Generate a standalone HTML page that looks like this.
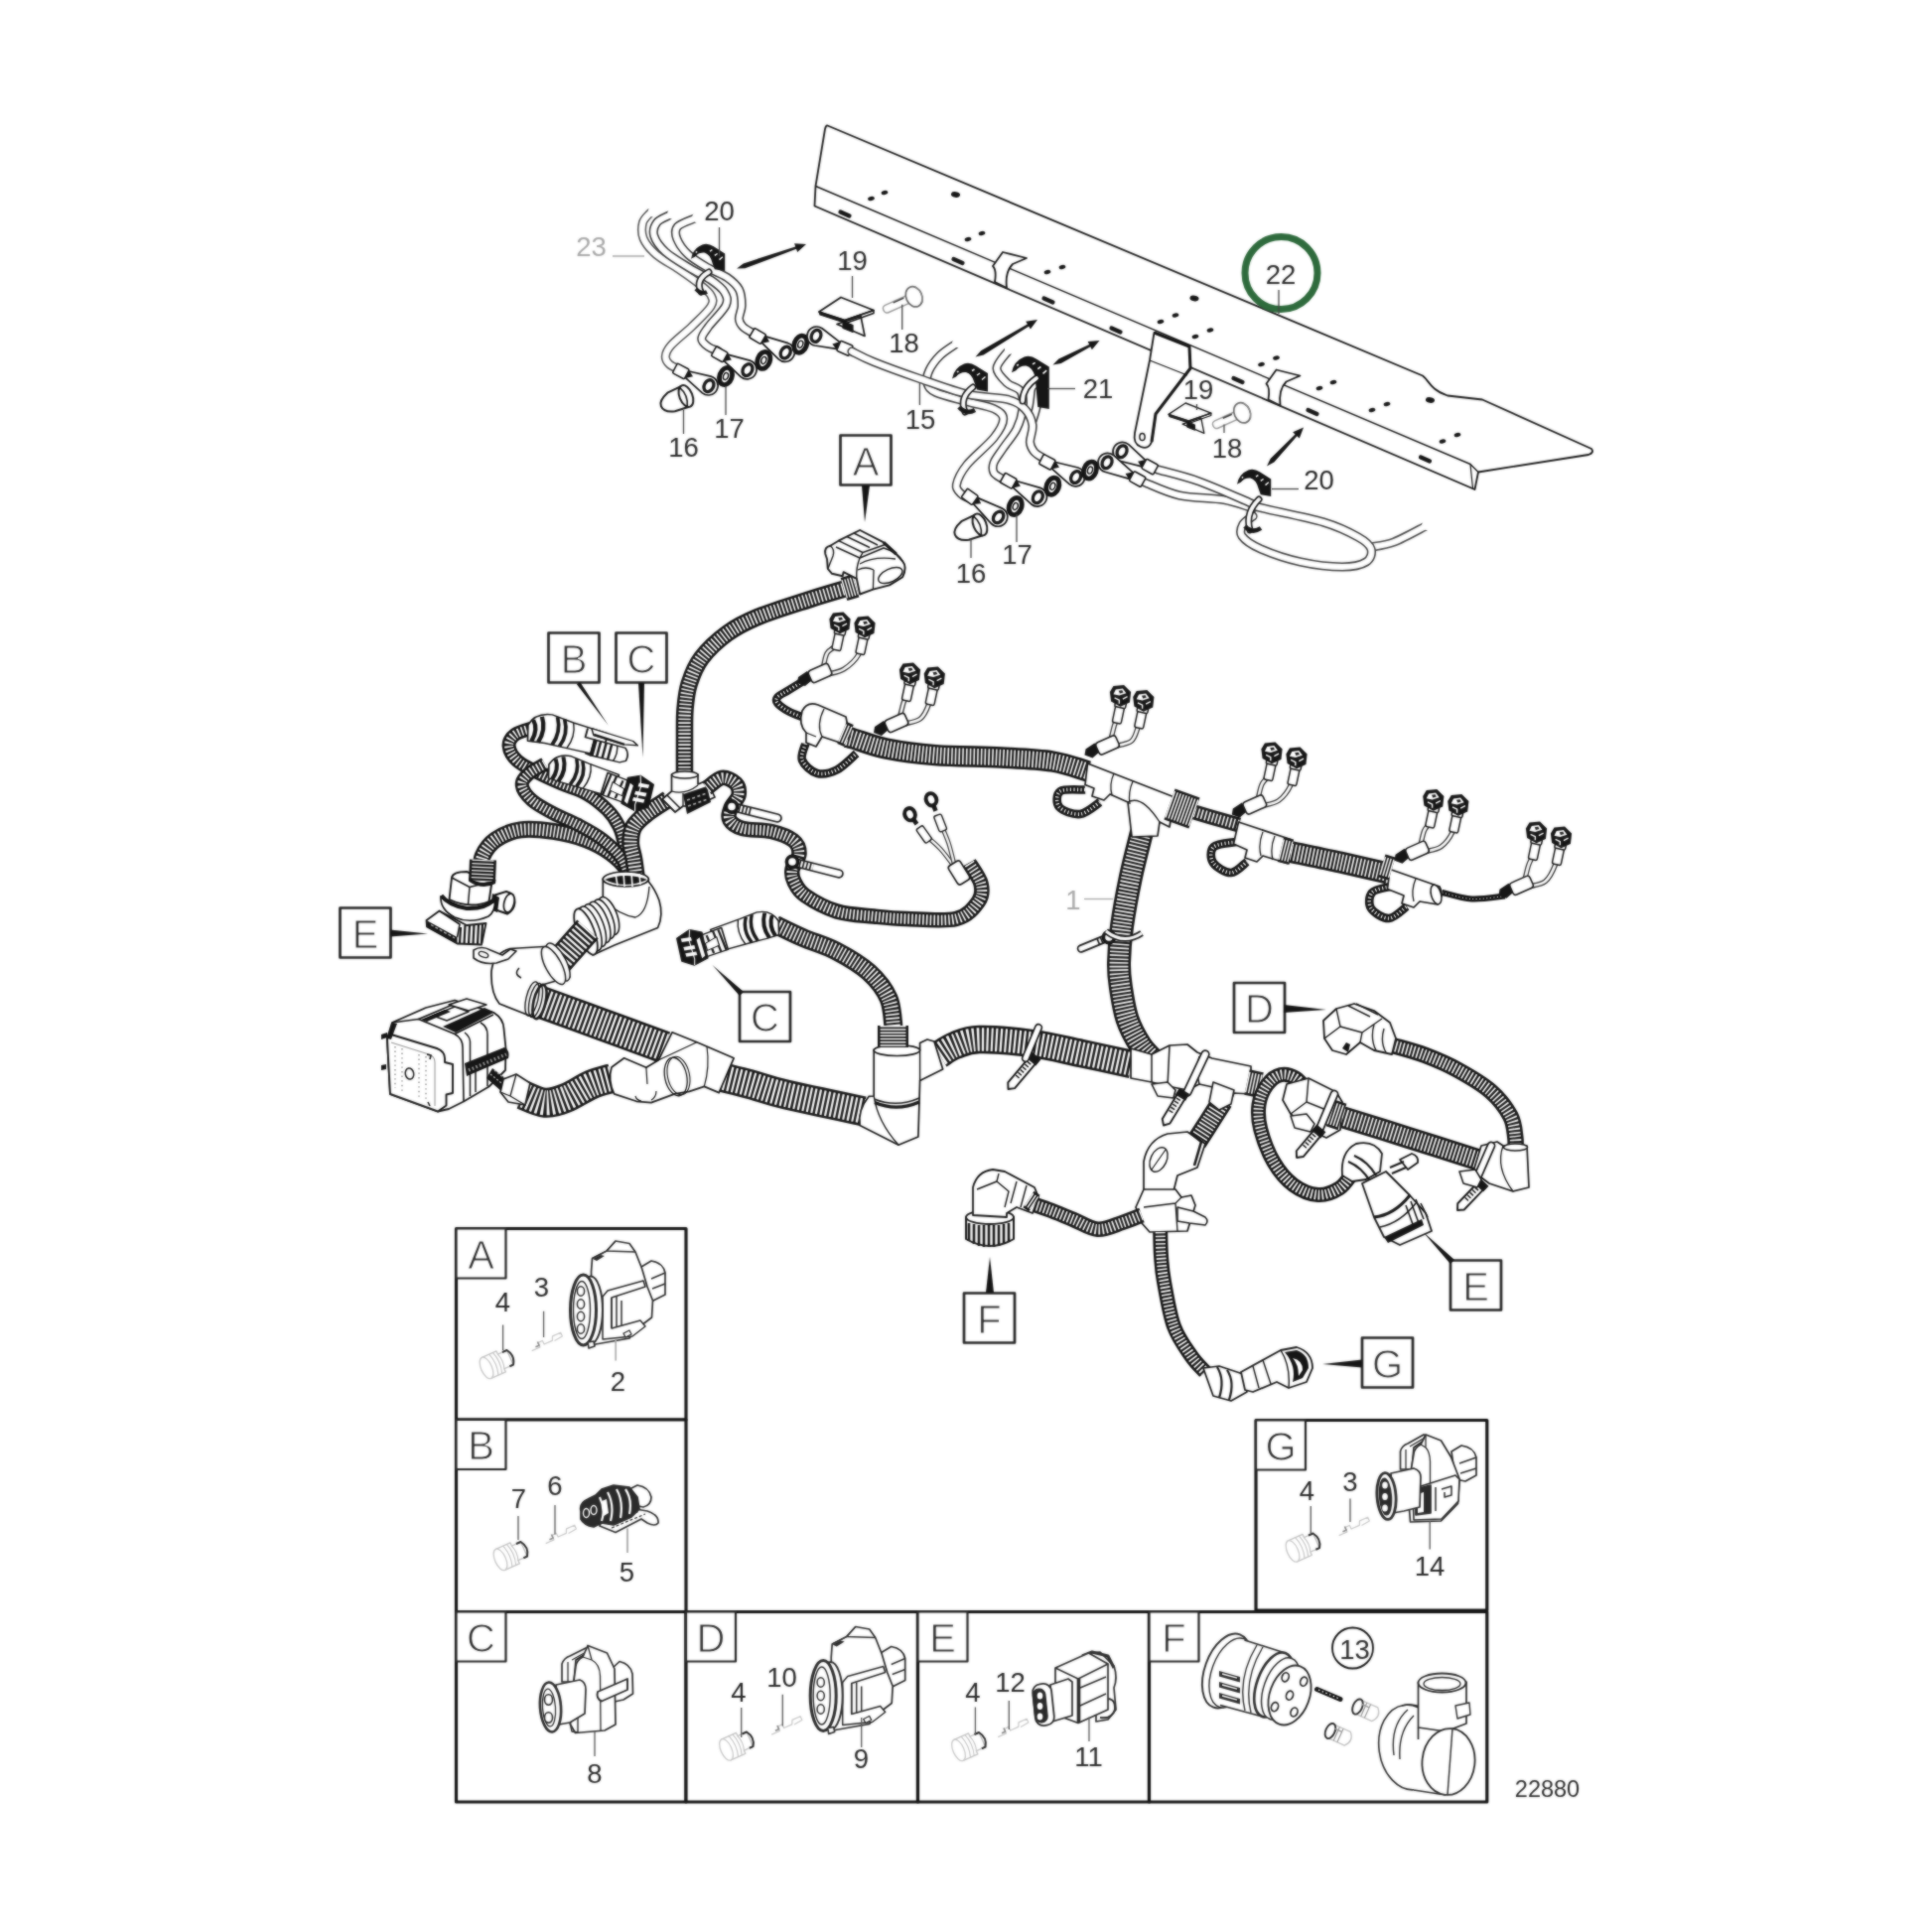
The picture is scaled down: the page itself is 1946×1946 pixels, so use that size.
<!DOCTYPE html>
<html><head><meta charset="utf-8"><title>Cable harness 22880</title>
<style>
html,body{margin:0;padding:0;background:#fff;}
body{width:1946px;height:1946px;overflow:hidden;}
svg{display:block;}
text{font-family:"Liberation Sans",Arial,Helvetica,sans-serif;}
</style></head><body>
<svg width="1946" height="1946" viewBox="0 0 1946 1946" stroke-linejoin="round">
<defs>
<filter id="soft" x="0" y="0" width="1946" height="1946" filterUnits="userSpaceOnUse" color-interpolation-filters="sRGB"><feGaussianBlur stdDeviation="0.9"/></filter>
<g id="art">
<rect width="1946" height="1946" fill="#fff"/>
<path d="M833.5 126.5 L1433 378.5 C1440 384 1440 392 1458 398.5 L1493 402.5 L1603 452 Q1606 456 1600 458 L1489 475.5 L1485.5 493 L820.5 207.5 L821.5 187.5 L831 130 Q832 126 833.5 126.5Z" fill="#fff" stroke="#161616" stroke-width="1.8" />
<path d="M821.5 187.5 L1481 467.5 L1489 475.5" fill="none" stroke="#161616" stroke-width="1.4" />
<path d="M1481 467.5 L1483.5 492" fill="none" stroke="#161616" stroke-width="1.2" />
<line x1="846.5" y1="213.5" x2="855.5" y2="217.5" stroke="#161616" stroke-width="4.2" stroke-linecap="round"/>
<line x1="960.5" y1="261.0" x2="969.5" y2="265.0" stroke="#161616" stroke-width="4.2" stroke-linecap="round"/>
<line x1="1051.5" y1="300.5" x2="1060.5" y2="304.5" stroke="#161616" stroke-width="4.2" stroke-linecap="round"/>
<line x1="1119.5" y1="330.5" x2="1128.5" y2="334.5" stroke="#161616" stroke-width="4.2" stroke-linecap="round"/>
<line x1="1242.5" y1="381.0" x2="1251.5" y2="385.0" stroke="#161616" stroke-width="4.2" stroke-linecap="round"/>
<line x1="1317.5" y1="413.0" x2="1326.5" y2="417.0" stroke="#161616" stroke-width="4.2" stroke-linecap="round"/>
<line x1="1431.0" y1="460.5" x2="1440.0" y2="464.5" stroke="#161616" stroke-width="4.2" stroke-linecap="round"/>
<ellipse cx="877.5" cy="200.0" rx="3.4" ry="2.1" fill="#161616" transform="rotate(-12 877.5 200.0)"/>
<ellipse cx="891.0" cy="194.0" rx="3.4" ry="2.1" fill="#161616" transform="rotate(-12 891.0 194.0)"/>
<ellipse cx="975.0" cy="241.0" rx="3.4" ry="2.1" fill="#161616" transform="rotate(-12 975.0 241.0)"/>
<ellipse cx="989.0" cy="235.0" rx="3.4" ry="2.1" fill="#161616" transform="rotate(-12 989.0 235.0)"/>
<ellipse cx="1055.0" cy="274.0" rx="3.4" ry="2.1" fill="#161616" transform="rotate(-12 1055.0 274.0)"/>
<ellipse cx="1070.0" cy="269.0" rx="3.4" ry="2.1" fill="#161616" transform="rotate(-12 1070.0 269.0)"/>
<ellipse cx="1169.0" cy="324.0" rx="3.4" ry="2.1" fill="#161616" transform="rotate(-12 1169.0 324.0)"/>
<ellipse cx="1184.0" cy="317.5" rx="3.4" ry="2.1" fill="#161616" transform="rotate(-12 1184.0 317.5)"/>
<ellipse cx="1204.0" cy="339.0" rx="3.4" ry="2.1" fill="#161616" transform="rotate(-12 1204.0 339.0)"/>
<ellipse cx="1219.0" cy="332.5" rx="3.4" ry="2.1" fill="#161616" transform="rotate(-12 1219.0 332.5)"/>
<ellipse cx="1270.5" cy="367.0" rx="3.4" ry="2.1" fill="#161616" transform="rotate(-12 1270.5 367.0)"/>
<ellipse cx="1285.5" cy="360.5" rx="3.4" ry="2.1" fill="#161616" transform="rotate(-12 1285.5 360.5)"/>
<ellipse cx="1329.0" cy="391.0" rx="3.4" ry="2.1" fill="#161616" transform="rotate(-12 1329.0 391.0)"/>
<ellipse cx="1343.0" cy="385.0" rx="3.4" ry="2.1" fill="#161616" transform="rotate(-12 1343.0 385.0)"/>
<ellipse cx="1382.0" cy="413.0" rx="3.4" ry="2.1" fill="#161616" transform="rotate(-12 1382.0 413.0)"/>
<ellipse cx="1397.0" cy="407.0" rx="3.4" ry="2.1" fill="#161616" transform="rotate(-12 1397.0 407.0)"/>
<ellipse cx="1453.0" cy="444.5" rx="3.4" ry="2.1" fill="#161616" transform="rotate(-12 1453.0 444.5)"/>
<ellipse cx="1468.0" cy="438.0" rx="3.4" ry="2.1" fill="#161616" transform="rotate(-12 1468.0 438.0)"/>
<ellipse cx="962.5" cy="196.0" rx="4.6" ry="2.8" fill="#161616" transform="rotate(10 962.5 196.0)"/>
<ellipse cx="1203.0" cy="300.5" rx="4.6" ry="2.8" fill="#161616" transform="rotate(10 1203.0 300.5)"/>
<ellipse cx="1440.5" cy="403.0" rx="4.6" ry="2.8" fill="#161616" transform="rotate(10 1440.5 403.0)"/>
<path d="M1000.0 268.0 l10 -14 l24 6 l-14 6 q-8 8 -6 24 l-12 -6 q2 -12 -2 -16Z" fill="#fff" stroke="#161616" stroke-width="1.8" />
<path d="M1275.5 386.5 l10 -14 l24 6 l-14 6 q-8 8 -6 24 l-12 -6 q2 -12 -2 -16Z" fill="#fff" stroke="#161616" stroke-width="1.8" />
<path d="M1162.5 335 L1198 349 L1199 371 L1164 417 L1160 445 Q1157 453 1149 450 Q1141 447 1143 436 L1158 363 Z" fill="#fff" stroke="#161616" stroke-width="1.8" />
<path d="M1162.5 335 L1198 349 L1199 371 L1164 417 L1160 445" fill="none" stroke="#161616" stroke-width="3" />
<path d="M1158 363 L1196 378" fill="none" stroke="#161616" stroke-width="1.3" />
<ellipse cx="1150.5" cy="440" rx="2.6" ry="3.6" fill="none" stroke="#161616" stroke-width="1.5"/>
<circle cx="1290.5" cy="275" r="36.5" fill="none" stroke="#2f6b3d" stroke-width="7"/>
<text x="1290.0" y="286.3" font-size="27.5" fill="#2a2a2a" text-anchor="middle" >22</text>
<line x1="1288.0" y1="292.0" x2="1288.0" y2="316.0" stroke="#444" stroke-width="1.3"/>
<text x="724.5" y="221.8" font-size="27.5" fill="#2a2a2a" text-anchor="middle" >20</text>
<text x="858.5" y="271.8" font-size="27.5" fill="#2a2a2a" text-anchor="middle" >19</text>
<text x="910.5" y="354.8" font-size="27.5" fill="#2a2a2a" text-anchor="middle" >18</text>
<text x="734.5" y="440.8" font-size="27.5" fill="#2a2a2a" text-anchor="middle" >17</text>
<text x="688.5" y="459.8" font-size="27.5" fill="#2a2a2a" text-anchor="middle" >16</text>
<text x="927.0" y="431.8" font-size="27.5" fill="#2a2a2a" text-anchor="middle" >15</text>
<text x="1024.5" y="568.3" font-size="27.5" fill="#2a2a2a" text-anchor="middle" >17</text>
<text x="978.0" y="586.8" font-size="27.5" fill="#2a2a2a" text-anchor="middle" >16</text>
<text x="1106.0" y="400.8" font-size="27.5" fill="#2a2a2a" text-anchor="middle" >21</text>
<text x="1207.0" y="401.8" font-size="27.5" fill="#2a2a2a" text-anchor="middle" >19</text>
<text x="1236.0" y="460.8" font-size="27.5" fill="#2a2a2a" text-anchor="middle" >18</text>
<text x="1328.5" y="493.3" font-size="27.5" fill="#2a2a2a" text-anchor="middle" >20</text>
<text x="595.5" y="258.3" font-size="27.5" fill="#a9a9a9" text-anchor="middle" >23</text>
<text x="1081.0" y="916.3" font-size="27.5" fill="#a9a9a9" text-anchor="middle" >1</text>
<rect x="459.5" y="1237.5" width="231.5" height="192.5" fill="#fff" stroke="#161616" stroke-width="3.2"/>
<rect x="459.5" y="1430.0" width="231.5" height="193.5" fill="#fff" stroke="#161616" stroke-width="3.2"/>
<rect x="459.5" y="1623.5" width="231.5" height="191.5" fill="#fff" stroke="#161616" stroke-width="3.2"/>
<rect x="691.0" y="1623.5" width="233.5" height="191.5" fill="#fff" stroke="#161616" stroke-width="3.2"/>
<rect x="924.5" y="1623.5" width="233.0" height="191.5" fill="#fff" stroke="#161616" stroke-width="3.2"/>
<rect x="1157.5" y="1623.5" width="340.3" height="191.5" fill="#fff" stroke="#161616" stroke-width="3.2"/>
<rect x="1265.0" y="1430.5" width="232.8" height="191.5" fill="#fff" stroke="#161616" stroke-width="3.2"/>
<rect x="459.5" y="1237.5" width="50" height="50" fill="#fff" stroke="#262626" stroke-width="2.2"/>
<text x="484.5" y="1277.9" font-size="40" fill="#2e2e2e" text-anchor="middle" stroke="#fff" stroke-width="1.1">A</text>
<rect x="459.5" y="1430.0" width="50" height="50" fill="#fff" stroke="#262626" stroke-width="2.2"/>
<text x="484.5" y="1470.4" font-size="40" fill="#2e2e2e" text-anchor="middle" stroke="#fff" stroke-width="1.1">B</text>
<rect x="459.5" y="1623.5" width="50" height="50" fill="#fff" stroke="#262626" stroke-width="2.2"/>
<text x="484.5" y="1663.9" font-size="40" fill="#2e2e2e" text-anchor="middle" stroke="#fff" stroke-width="1.1">C</text>
<rect x="691.0" y="1623.5" width="50" height="50" fill="#fff" stroke="#262626" stroke-width="2.2"/>
<text x="716.0" y="1663.9" font-size="40" fill="#2e2e2e" text-anchor="middle" stroke="#fff" stroke-width="1.1">D</text>
<rect x="924.5" y="1623.5" width="50" height="50" fill="#fff" stroke="#262626" stroke-width="2.2"/>
<text x="949.5" y="1663.9" font-size="40" fill="#2e2e2e" text-anchor="middle" stroke="#fff" stroke-width="1.1">E</text>
<rect x="1157.5" y="1623.5" width="50" height="50" fill="#fff" stroke="#262626" stroke-width="2.2"/>
<text x="1182.5" y="1663.9" font-size="40" fill="#2e2e2e" text-anchor="middle" stroke="#fff" stroke-width="1.1">F</text>
<rect x="1265.0" y="1430.5" width="50" height="50" fill="#fff" stroke="#262626" stroke-width="2.2"/>
<text x="1290.0" y="1470.9" font-size="40" fill="#2e2e2e" text-anchor="middle" stroke="#fff" stroke-width="1.1">G</text>
<text x="506.5" y="1320.8" font-size="27.5" fill="#2a2a2a" text-anchor="middle" >4</text>
<text x="545.5" y="1305.8" font-size="27.5" fill="#2a2a2a" text-anchor="middle" >3</text>
<text x="622.5" y="1400.8" font-size="27.5" fill="#2a2a2a" text-anchor="middle" >2</text>
<text x="522.5" y="1518.8" font-size="27.5" fill="#2a2a2a" text-anchor="middle" >7</text>
<text x="559.0" y="1505.8" font-size="27.5" fill="#2a2a2a" text-anchor="middle" >6</text>
<text x="631.5" y="1593.3" font-size="27.5" fill="#2a2a2a" text-anchor="middle" >5</text>
<text x="599.0" y="1795.8" font-size="27.5" fill="#2a2a2a" text-anchor="middle" >8</text>
<text x="744.0" y="1713.8" font-size="27.5" fill="#2a2a2a" text-anchor="middle" >4</text>
<text x="787.5" y="1698.8" font-size="27.5" fill="#2a2a2a" text-anchor="middle" >10</text>
<text x="867.5" y="1780.8" font-size="27.5" fill="#2a2a2a" text-anchor="middle" >9</text>
<text x="980.0" y="1713.8" font-size="27.5" fill="#2a2a2a" text-anchor="middle" >4</text>
<text x="1017.5" y="1703.8" font-size="27.5" fill="#2a2a2a" text-anchor="middle" >12</text>
<text x="1096.5" y="1778.8" font-size="27.5" fill="#2a2a2a" text-anchor="middle" >11</text>
<text x="1364.5" y="1670.8" font-size="27.5" fill="#2a2a2a" text-anchor="middle" >13</text>
<text x="1316.5" y="1510.8" font-size="27.5" fill="#2a2a2a" text-anchor="middle" >4</text>
<text x="1360.0" y="1502.3" font-size="27.5" fill="#2a2a2a" text-anchor="middle" >3</text>
<text x="1440.0" y="1587.3" font-size="27.5" fill="#2a2a2a" text-anchor="middle" >14</text>
<circle cx="1362.5" cy="1660" r="20.5" fill="none" stroke="#161616" stroke-width="1.8"/>
<text x="1558.5" y="1809.5" font-size="23.5" fill="#2a2a2a" text-anchor="middle" >22880</text>
<rect x="846.5" y="438.5" width="51" height="50" fill="#fff" stroke="#262626" stroke-width="2.7"/>
<text x="872.0" y="478.9" font-size="40" fill="#2e2e2e" text-anchor="middle" stroke="#fff" stroke-width="1.1">A</text>
<rect x="552.5" y="637.5" width="51" height="50" fill="#fff" stroke="#262626" stroke-width="2.7"/>
<text x="578.0" y="677.9" font-size="40" fill="#2e2e2e" text-anchor="middle" stroke="#fff" stroke-width="1.1">B</text>
<rect x="620.5" y="637.5" width="51" height="50" fill="#fff" stroke="#262626" stroke-width="2.7"/>
<text x="646.0" y="677.9" font-size="40" fill="#2e2e2e" text-anchor="middle" stroke="#fff" stroke-width="1.1">C</text>
<rect x="342.5" y="914.5" width="51" height="50" fill="#fff" stroke="#262626" stroke-width="2.7"/>
<text x="368.0" y="954.9" font-size="40" fill="#2e2e2e" text-anchor="middle" stroke="#fff" stroke-width="1.1">E</text>
<rect x="745.0" y="999.0" width="51" height="50" fill="#fff" stroke="#262626" stroke-width="2.7"/>
<text x="770.5" y="1039.4" font-size="40" fill="#2e2e2e" text-anchor="middle" stroke="#fff" stroke-width="1.1">C</text>
<rect x="1243.0" y="990.0" width="51" height="50" fill="#fff" stroke="#262626" stroke-width="2.7"/>
<text x="1268.5" y="1030.4" font-size="40" fill="#2e2e2e" text-anchor="middle" stroke="#fff" stroke-width="1.1">D</text>
<rect x="1461.0" y="1269.5" width="51" height="50" fill="#fff" stroke="#262626" stroke-width="2.7"/>
<text x="1486.5" y="1309.9" font-size="40" fill="#2e2e2e" text-anchor="middle" stroke="#fff" stroke-width="1.1">E</text>
<rect x="1372.0" y="1347.5" width="51" height="50" fill="#fff" stroke="#262626" stroke-width="2.7"/>
<text x="1397.5" y="1387.9" font-size="40" fill="#2e2e2e" text-anchor="middle" stroke="#fff" stroke-width="1.1">G</text>
<rect x="971.0" y="1302.5" width="51" height="50" fill="#fff" stroke="#262626" stroke-width="2.7"/>
<text x="996.5" y="1342.9" font-size="40" fill="#2e2e2e" text-anchor="middle" stroke="#fff" stroke-width="1.1">F</text>
<path d="M868.0 488.9 L871.0 526.0 L876.0 489.1 Z" fill="#161616"/>
<path d="M580.9 689.2 L613.0 731.0 L584.1 686.8 Z" fill="#161616"/>
<path d="M643.0 688.1 L647.5 763.0 L649.0 687.9 Z" fill="#161616"/>
<path d="M393.0 943.5 L431.0 940.5 L393.0 936.5 Z" fill="#161616"/>
<path d="M749.1 998.9 L717.5 972.0 L744.9 1003.1 Z" fill="#161616"/>
<path d="M1292.9 1020.0 L1336.0 1017.0 L1293.1 1012.0 Z" fill="#161616"/>
<path d="M1465.1 1268.9 L1432.5 1240.0 L1460.9 1273.1 Z" fill="#161616"/>
<path d="M1372.0 1369.5 L1332.0 1374.0 L1372.0 1377.5 Z" fill="#161616"/>
<path d="M1001.0 1302.0 L997.0 1266.0 L993.0 1302.0 Z" fill="#161616"/>
<line x1="617.0" y1="258.0" x2="649.0" y2="258.0" stroke="#999" stroke-width="1.3"/>
<path d="M654.9 214.5 C653.7 216.1 648.6 219.9 647.5 224.2 C646.4 228.5 646.0 235.0 648.2 240.4 C650.5 245.8 655.1 251.3 661.0 256.5 C666.9 261.6 676.4 266.2 683.8 271.3 C691.2 276.4 700.0 282.6 705.4 287.0 C710.8 291.4 714.3 293.9 716.1 297.5 C717.9 301.1 719.2 303.3 716.1 308.5 C713.0 313.7 704.0 321.9 697.3 328.5 C690.6 335.1 680.3 342.9 675.8 348.0 C671.3 353.1 670.6 355.8 670.4 359.0 C670.2 362.2 672.0 364.8 674.4 367.0 C676.8 369.2 682.8 371.2 684.5 372.0" fill="none" stroke="#555" stroke-width="9.2" stroke-linecap="round"/>
<path d="M654.9 214.5 C653.7 216.1 648.6 219.9 647.5 224.2 C646.4 228.5 646.0 235.0 648.2 240.4 C650.5 245.8 655.1 251.3 661.0 256.5 C666.9 261.6 676.4 266.2 683.8 271.3 C691.2 276.4 700.0 282.6 705.4 287.0 C710.8 291.4 714.3 293.9 716.1 297.5 C717.9 301.1 719.2 303.3 716.1 308.5 C713.0 313.7 704.0 321.9 697.3 328.5 C690.6 335.1 680.3 342.9 675.8 348.0 C671.3 353.1 670.6 355.8 670.4 359.0 C670.2 362.2 672.0 364.8 674.4 367.0 C676.8 369.2 682.8 371.2 684.5 372.0" fill="none" stroke="#fff" stroke-width="6.1" stroke-linecap="round"/>
<path d="M674.4 216.8 C672.3 218.0 664.2 220.7 661.6 224.2 C659.0 227.7 657.4 232.8 658.9 237.7 C660.4 242.6 664.4 248.4 670.4 253.8 C676.4 259.2 687.0 265.3 694.6 270.0 C702.2 274.7 710.3 278.1 716.1 282.1 C721.9 286.1 727.1 289.9 729.6 294.2 C732.1 298.5 733.7 301.9 731.0 307.7 C728.3 313.5 717.5 323.6 713.5 329.2 C709.5 334.8 706.7 337.9 706.7 341.3 C706.7 344.7 710.8 347.4 713.5 349.4 C716.2 351.4 721.3 352.7 722.9 353.4" fill="none" stroke="#3a3a3a" stroke-width="9.2" stroke-linecap="round"/>
<path d="M674.4 216.8 C672.3 218.0 664.2 220.7 661.6 224.2 C659.0 227.7 657.4 232.8 658.9 237.7 C660.4 242.6 664.4 248.4 670.4 253.8 C676.4 259.2 687.0 265.3 694.6 270.0 C702.2 274.7 710.3 278.1 716.1 282.1 C721.9 286.1 727.1 289.9 729.6 294.2 C732.1 298.5 733.7 301.9 731.0 307.7 C728.3 313.5 717.5 323.6 713.5 329.2 C709.5 334.8 706.7 337.9 706.7 341.3 C706.7 344.7 710.8 347.4 713.5 349.4 C716.2 351.4 721.3 352.7 722.9 353.4" fill="none" stroke="#fff" stroke-width="6.1" stroke-linecap="round"/>
<path d="M699.3 220.2 C696.5 221.5 685.4 224.9 682.5 228.3 C679.6 231.7 680.0 235.7 681.8 240.4 C683.6 245.1 688.0 251.6 693.3 256.5 C698.6 261.4 707.0 266.2 713.5 270.0 C720.0 273.8 727.1 275.8 732.3 279.4 C737.4 283.0 741.9 286.8 744.4 291.5 C746.9 296.2 747.1 302.8 747.1 307.7 C747.1 312.6 744.2 317.5 744.4 321.1 C744.6 324.7 745.9 326.7 748.4 329.2 C750.9 331.7 757.4 334.9 759.2 336.0" fill="none" stroke="#3a3a3a" stroke-width="9.2" stroke-linecap="round"/>
<path d="M699.3 220.2 C696.5 221.5 685.4 224.9 682.5 228.3 C679.6 231.7 680.0 235.7 681.8 240.4 C683.6 245.1 688.0 251.6 693.3 256.5 C698.6 261.4 707.0 266.2 713.5 270.0 C720.0 273.8 727.1 275.8 732.3 279.4 C737.4 283.0 741.9 286.8 744.4 291.5 C746.9 296.2 747.1 302.8 747.1 307.7 C747.1 312.6 744.2 317.5 744.4 321.1 C744.6 324.7 745.9 326.7 748.4 329.2 C750.9 331.7 757.4 334.9 759.2 336.0" fill="none" stroke="#fff" stroke-width="6.1" stroke-linecap="round"/>
<circle cx="658.4" cy="213.0" r="5.6" fill="#fff"/>
<circle cx="677.9" cy="215.3" r="5.6" fill="#fff"/>
<circle cx="702.8" cy="218.7" r="5.6" fill="#fff"/>
<g transform="translate(696.0 245.5) scale(0.95)">
<path d="M0 16 Q2 5 12 1 Q18 -1 24 3 L36 10.5 L36 29 L25 27 L22.5 20 Q20 11 14 9.5 Q8 9 4 14 Z" fill="#161616"/>
<path d="M20 8 l2.5 -1.5 M25 12.5 l3 -2 M30 17 l3.5 -3 M5 9.5 l1.5 -1.2" stroke="#fff" stroke-width="1.5" fill="none"/>
</g>
<path d="M714.0 274.0 Q700.0 282.0 706.0 294.0" fill="none" stroke="#161616" stroke-width="7" stroke-linecap="round"/>
<path d="M714.0 274.0 Q700.0 282.0 706.0 294.0" fill="none" stroke="#fff" stroke-width="3.8" stroke-linecap="round"/>
<path d="M701 291 q5 6 11 3" stroke="#161616" stroke-width="4" fill="none"/>
<g transform="translate(742.0 270.5) rotate(-19.3)">
<path d="M0 0 L8 -2.6 L63.2 -1.3 L63.2 -4.6 L74.2 0 L63.2 4.6 L63.2 1.3 L8 2.6Z" fill="#161616"/>
</g>
<g transform="translate(790.8 354.8) rotate(30.5)">
<path d="M-25.9 -3.5 L-2 -9.4 A9.6 9.6 0 1 1 -2 9.4 L-25.9 3.5Z" fill="#fff" stroke="#161616" stroke-width="1.7"/>
<path d="M-25.9 -5 L-18.9 -1 L-25.9 5Z" fill="#161616"/>
<rect x="-38.9" y="-5.5" width="13.5" height="11" rx="1.5" fill="#fff" stroke="#161616" stroke-width="1.6"/>
<ellipse cx="0.5" cy="0" rx="4.6" ry="6.2" fill="#fff" stroke="#161616" stroke-width="3.3"/>
</g>
<g transform="translate(752.5 372.3) rotate(29.1)">
<path d="M-25.5 -3.5 L-2 -9.4 A9.6 9.6 0 1 1 -2 9.4 L-25.5 3.5Z" fill="#fff" stroke="#161616" stroke-width="1.7"/>
<path d="M-25.5 -5 L-18.5 -1 L-25.5 5Z" fill="#161616"/>
<rect x="-38.5" y="-5.5" width="13.5" height="11" rx="1.5" fill="#fff" stroke="#161616" stroke-width="1.6"/>
<ellipse cx="0.5" cy="0" rx="4.6" ry="6.2" fill="#fff" stroke="#161616" stroke-width="3.3"/>
</g>
<g transform="translate(713.5 388.4) rotate(27.6)">
<path d="M-25.0 -3.5 L-2 -9.4 A9.6 9.6 0 1 1 -2 9.4 L-25.0 3.5Z" fill="#fff" stroke="#161616" stroke-width="1.7"/>
<path d="M-25.0 -5 L-18.0 -1 L-25.0 5Z" fill="#161616"/>
<rect x="-38.0" y="-5.5" width="13.5" height="11" rx="1.5" fill="#fff" stroke="#161616" stroke-width="1.6"/>
<ellipse cx="0.5" cy="0" rx="4.6" ry="6.2" fill="#fff" stroke="#161616" stroke-width="3.3"/>
</g>
<g transform="translate(806.3 346.7) rotate(20.0)">
<ellipse cx="0" cy="0" rx="6.2" ry="8.8" fill="#fff" stroke="#161616" stroke-width="4.8"/>
<ellipse cx="0" cy="0" rx="2.4" ry="3.6" fill="none" stroke="#161616" stroke-width="1.4"/>
</g>
<g transform="translate(769.3 362.9) rotate(20.0)">
<ellipse cx="0" cy="0" rx="6.2" ry="8.8" fill="#fff" stroke="#161616" stroke-width="4.8"/>
<ellipse cx="0" cy="0" rx="2.4" ry="3.6" fill="none" stroke="#161616" stroke-width="1.4"/>
</g>
<g transform="translate(731.0 379.0) rotate(20.0)">
<ellipse cx="0" cy="0" rx="6.2" ry="8.8" fill="#fff" stroke="#161616" stroke-width="4.8"/>
<ellipse cx="0" cy="0" rx="2.4" ry="3.6" fill="none" stroke="#161616" stroke-width="1.4"/>
</g>
<g transform="translate(683.5 402.0) rotate(-22.0)">
<path d="M6 -11 L-8 -10 Q-19 -6 -19 0 Q-19 7 -8 10 L6 11 Z" fill="#fff" stroke="#161616" stroke-width="2"/>
<ellipse cx="8" cy="0" rx="6.5" ry="11.5" fill="#fff" stroke="#161616" stroke-width="2"/>
<path d="M5 -11 Q11 0 5 11" fill="none" stroke="#161616" stroke-width="1.6"/>
</g>
<g transform="translate(822.5 338.6) rotate(-156.8)">
<path d="M-24.7 -3.5 L-2 -9.4 A9.6 9.6 0 1 1 -2 9.4 L-24.7 3.5Z" fill="#fff" stroke="#161616" stroke-width="1.7"/>
<path d="M-24.7 -5 L-17.7 -1 L-24.7 5Z" fill="#161616"/>
<rect x="-37.7" y="-5.5" width="13.5" height="11" rx="1.5" fill="#fff" stroke="#161616" stroke-width="1.6"/>
<ellipse cx="0.5" cy="0" rx="4.6" ry="6.2" fill="#fff" stroke="#161616" stroke-width="3.3"/>
</g>
<g transform="translate(825.0 299.5) scale(1.00)">
<path d="M42 19 L46 39 L18 27 Z" fill="#fff" stroke="#161616" stroke-width="1.7" />
<path d="M24 24 L24 31 L34 35 L34 28Z" fill="#161616" stroke="#161616" stroke-width="1.2" />
<path d="M0 14.5 L22 0 L55 13 L26 23 Z" fill="#fff" stroke="#161616" stroke-width="1.8" />
<path d="M0 14.5 L26 23 L27 26 L1 17.5Z" fill="#161616" stroke="#161616" stroke-width="1.2" />
<path d="M26 23 L55 13 L55 16 L27 26" fill="none" stroke="#161616" stroke-width="1.5" />
</g>
<g transform="translate(922.5 298.0) rotate(156.0)">
<rect x="0" y="-4" width="35.6" height="8" rx="3.5" fill="#fff" stroke="#9a9a9a" stroke-width="1.5"/>
<line x1="12" y1="3" x2="23.6" y2="3" stroke="#333" stroke-width="1.6"/>
<ellipse cx="2" cy="0" rx="8" ry="10.5" fill="#fff" stroke="#666" stroke-width="1.7"/>
<path d="M-3 -9 Q-9 0 -3 9" fill="none" stroke="#888" stroke-width="1.3"/>
</g>
<line x1="724.5" y1="229.0" x2="724.5" y2="258.0" stroke="#444" stroke-width="1.3"/>
<line x1="858.5" y1="278.0" x2="858.5" y2="300.0" stroke="#444" stroke-width="1.3"/>
<line x1="908.7" y1="306.7" x2="908.7" y2="332.0" stroke="#444" stroke-width="1.3"/>
<line x1="731.0" y1="389.0" x2="731.0" y2="418.0" stroke="#444" stroke-width="1.3"/>
<line x1="688.5" y1="413.0" x2="688.5" y2="437.0" stroke="#444" stroke-width="1.3"/>
<path d="M1046.0 394.0 C1045.7 396.7 1045.0 405.0 1044.0 410.0 C1043.0 415.0 1040.7 421.7 1040.0 424.0" fill="none" stroke="#3a3a3a" stroke-width="9.2" stroke-linecap="round"/>
<path d="M1046.0 394.0 C1045.7 396.7 1045.0 405.0 1044.0 410.0 C1043.0 415.0 1040.7 421.7 1040.0 424.0" fill="none" stroke="#fff" stroke-width="6.1" stroke-linecap="round"/>
<path d="M1015.0 354.0 C1013.2 356.8 1004.1 365.7 1004.0 371.0 C1003.9 376.3 1010.6 382.2 1014.6 386.0 C1018.6 389.8 1025.4 389.7 1028.0 394.0 C1030.6 398.3 1030.7 405.7 1030.0 412.0 C1029.3 418.3 1027.3 425.3 1024.0 432.0 C1020.7 438.7 1013.8 446.3 1010.0 452.0 C1006.2 457.7 1002.5 462.0 1001.0 466.0 C999.5 470.0 999.7 473.3 1001.0 476.0 C1002.3 478.7 1007.7 481.0 1009.0 482.0" fill="none" stroke="#3a3a3a" stroke-width="9.2" stroke-linecap="round"/>
<path d="M1015.0 354.0 C1013.2 356.8 1004.1 365.7 1004.0 371.0 C1003.9 376.3 1010.6 382.2 1014.6 386.0 C1018.6 389.8 1025.4 389.7 1028.0 394.0 C1030.6 398.3 1030.7 405.7 1030.0 412.0 C1029.3 418.3 1027.3 425.3 1024.0 432.0 C1020.7 438.7 1013.8 446.3 1010.0 452.0 C1006.2 457.7 1002.5 462.0 1001.0 466.0 C999.5 470.0 999.7 473.3 1001.0 476.0 C1002.3 478.7 1007.7 481.0 1009.0 482.0" fill="none" stroke="#fff" stroke-width="6.1" stroke-linecap="round"/>
<path d="M962.0 347.0 C959.5 348.8 951.3 353.7 947.0 358.0 C942.7 362.3 938.2 368.3 936.0 373.0 C933.8 377.7 932.8 382.2 934.0 386.0 C935.2 389.8 936.3 392.5 943.0 395.6 C949.7 398.7 964.3 401.8 974.0 404.5 C983.7 407.2 994.9 408.8 1001.0 411.7 C1007.1 414.6 1010.6 417.1 1010.6 422.0 C1010.6 426.9 1007.1 433.3 1001.0 441.0 C994.9 448.7 980.3 460.1 974.0 468.0 C967.7 475.9 964.3 483.4 963.4 488.4 C962.5 493.4 966.4 495.6 968.8 498.0 C971.2 500.4 976.5 501.8 978.0 502.5" fill="none" stroke="#3a3a3a" stroke-width="9.2" stroke-linecap="round"/>
<path d="M962.0 347.0 C959.5 348.8 951.3 353.7 947.0 358.0 C942.7 362.3 938.2 368.3 936.0 373.0 C933.8 377.7 932.8 382.2 934.0 386.0 C935.2 389.8 936.3 392.5 943.0 395.6 C949.7 398.7 964.3 401.8 974.0 404.5 C983.7 407.2 994.9 408.8 1001.0 411.7 C1007.1 414.6 1010.6 417.1 1010.6 422.0 C1010.6 426.9 1007.1 433.3 1001.0 441.0 C994.9 448.7 980.3 460.1 974.0 468.0 C967.7 475.9 964.3 483.4 963.4 488.4 C962.5 493.4 966.4 495.6 968.8 498.0 C971.2 500.4 976.5 501.8 978.0 502.5" fill="none" stroke="#fff" stroke-width="6.1" stroke-linecap="round"/>
<path d="M858.0 354.0 C861.7 355.8 868.8 360.0 880.0 364.5 C891.2 369.0 909.3 375.6 925.0 381.0 C940.7 386.4 959.1 393.4 974.0 397.0 C988.9 400.6 1004.9 399.9 1014.6 402.3 C1024.3 404.8 1027.8 407.4 1032.0 411.7 C1036.2 416.0 1039.1 422.3 1040.0 427.9 C1040.9 433.5 1037.2 440.9 1037.5 445.4 C1037.8 449.9 1039.4 452.2 1041.5 454.8 C1043.6 457.4 1048.6 460.0 1050.0 461.0" fill="none" stroke="#3a3a3a" stroke-width="9.2" stroke-linecap="round"/>
<path d="M858.0 354.0 C861.7 355.8 868.8 360.0 880.0 364.5 C891.2 369.0 909.3 375.6 925.0 381.0 C940.7 386.4 959.1 393.4 974.0 397.0 C988.9 400.6 1004.9 399.9 1014.6 402.3 C1024.3 404.8 1027.8 407.4 1032.0 411.7 C1036.2 416.0 1039.1 422.3 1040.0 427.9 C1040.9 433.5 1037.2 440.9 1037.5 445.4 C1037.8 449.9 1039.4 452.2 1041.5 454.8 C1043.6 457.4 1048.6 460.0 1050.0 461.0" fill="none" stroke="#fff" stroke-width="6.1" stroke-linecap="round"/>
<circle cx="965.0" cy="344.5" r="5.8" fill="#fff"/>
<circle cx="1017.5" cy="351.0" r="5.8" fill="#fff"/>
<g transform="translate(959.0 365.5) scale(1.00)">
<path d="M0 16 Q2 5 12 1 Q18 -1 24 3 L36 10.5 L36 29 L25 27 L22.5 20 Q20 11 14 9.5 Q8 9 4 14 Z" fill="#161616"/>
<path d="M20 8 l2.5 -1.5 M25 12.5 l3 -2 M30 17 l3.5 -3 M5 9.5 l1.5 -1.2" stroke="#fff" stroke-width="1.5" fill="none"/>
</g>
<path d="M980.0 390.0 Q966.0 400.5 972.0 415.0" fill="none" stroke="#161616" stroke-width="7" stroke-linecap="round"/>
<path d="M980.0 390.0 Q966.0 400.5 972.0 415.0" fill="none" stroke="#fff" stroke-width="3.8" stroke-linecap="round"/>
<path d="M966 410 q7 8 16 3" stroke="#161616" stroke-width="4.5" fill="none"/>
<g transform="translate(1019.0 358.5) scale(1.05)">
<path d="M0 16 Q2 5 12 1 Q18 -1 24 3 L36 10.5 L36 51 L25 49 L22.5 20 Q20 11 14 9.5 Q8 9 4 14 Z" fill="#161616"/>
<path d="M20 8 l2.5 -1.5 M25 12.5 l3 -2 M30 17 l3.5 -3 M5 9.5 l1.5 -1.2" stroke="#fff" stroke-width="1.5" fill="none"/>
</g>
<path d="M1044.0 381.0 Q1030.0 390.5 1030.0 404.0" fill="none" stroke="#161616" stroke-width="7" stroke-linecap="round"/>
<path d="M1044.0 381.0 Q1030.0 390.5 1030.0 404.0" fill="none" stroke="#fff" stroke-width="3.8" stroke-linecap="round"/>
<g transform="translate(982.5 359.5) rotate(-31.0)">
<path d="M0 0 L8 -2.6 L61.9 -1.3 L61.9 -4.6 L72.9 0 L61.9 4.6 L61.9 1.3 L8 2.6Z" fill="#161616"/>
</g>
<g transform="translate(1060.5 367.5) rotate(-27.5)">
<path d="M0 0 L8 -2.6 L42.0 -1.3 L42.0 -4.6 L53.0 0 L42.0 4.6 L42.0 1.3 L8 2.6Z" fill="#161616"/>
</g>
<g transform="translate(1083.2 480.3) rotate(27.7)">
<path d="M-25.8 -3.5 L-2 -9.4 A9.6 9.6 0 1 1 -2 9.4 L-25.8 3.5Z" fill="#fff" stroke="#161616" stroke-width="1.7"/>
<path d="M-25.8 -5 L-18.8 -1 L-25.8 5Z" fill="#161616"/>
<rect x="-38.8" y="-5.5" width="13.5" height="11" rx="1.5" fill="#fff" stroke="#161616" stroke-width="1.6"/>
<ellipse cx="0.5" cy="0" rx="4.6" ry="6.2" fill="#fff" stroke="#161616" stroke-width="3.3"/>
</g>
<g transform="translate(1044.9 500.5) rotate(29.1)">
<path d="M-27.1 -3.5 L-2 -9.4 A9.6 9.6 0 1 1 -2 9.4 L-27.1 3.5Z" fill="#fff" stroke="#161616" stroke-width="1.7"/>
<path d="M-27.1 -5 L-20.1 -1 L-27.1 5Z" fill="#161616"/>
<rect x="-40.1" y="-5.5" width="13.5" height="11" rx="1.5" fill="#fff" stroke="#161616" stroke-width="1.6"/>
<ellipse cx="0.5" cy="0" rx="4.6" ry="6.2" fill="#fff" stroke="#161616" stroke-width="3.3"/>
</g>
<g transform="translate(1005.2 520.7) rotate(35.6)">
<path d="M-28.7 -3.5 L-2 -9.4 A9.6 9.6 0 1 1 -2 9.4 L-28.7 3.5Z" fill="#fff" stroke="#161616" stroke-width="1.7"/>
<path d="M-28.7 -5 L-21.7 -1 L-28.7 5Z" fill="#161616"/>
<rect x="-41.7" y="-5.5" width="13.5" height="11" rx="1.5" fill="#fff" stroke="#161616" stroke-width="1.6"/>
<ellipse cx="0.5" cy="0" rx="4.6" ry="6.2" fill="#fff" stroke="#161616" stroke-width="3.3"/>
</g>
<g transform="translate(1098.0 473.6) rotate(20.0)">
<ellipse cx="0" cy="0" rx="6.2" ry="8.8" fill="#fff" stroke="#161616" stroke-width="4.8"/>
<ellipse cx="0" cy="0" rx="2.4" ry="3.6" fill="none" stroke="#161616" stroke-width="1.4"/>
</g>
<g transform="translate(1060.3 489.8) rotate(20.0)">
<ellipse cx="0" cy="0" rx="6.2" ry="8.8" fill="#fff" stroke="#161616" stroke-width="4.8"/>
<ellipse cx="0" cy="0" rx="2.4" ry="3.6" fill="none" stroke="#161616" stroke-width="1.4"/>
</g>
<g transform="translate(1022.7 510.0) rotate(20.0)">
<ellipse cx="0" cy="0" rx="6.2" ry="8.8" fill="#fff" stroke="#161616" stroke-width="4.8"/>
<ellipse cx="0" cy="0" rx="2.4" ry="3.6" fill="none" stroke="#161616" stroke-width="1.4"/>
</g>
<g transform="translate(979.5 531.5) rotate(-22.0)">
<path d="M6 -11 L-8 -10 Q-19 -6 -19 0 Q-19 7 -8 10 L6 11 Z" fill="#fff" stroke="#161616" stroke-width="2"/>
<ellipse cx="8" cy="0" rx="6.5" ry="11.5" fill="#fff" stroke="#161616" stroke-width="2"/>
<path d="M5 -11 Q11 0 5 11" fill="none" stroke="#161616" stroke-width="1.6"/>
</g>
<line x1="926.4" y1="386.0" x2="926.4" y2="408.0" stroke="#444" stroke-width="1.3"/>
<line x1="1055.0" y1="391.5" x2="1083.0" y2="391.5" stroke="#444" stroke-width="1.3"/>
<line x1="1024.0" y1="518.0" x2="1024.0" y2="546.0" stroke="#444" stroke-width="1.3"/>
<line x1="978.0" y1="543.0" x2="978.0" y2="562.0" stroke="#444" stroke-width="1.3"/>
<path d="M1381.0 551.0 C1384.8 550.2 1394.8 549.5 1404.0 546.0 C1413.2 542.5 1430.7 532.7 1436.0 530.0" fill="none" stroke="#444" stroke-width="9.2" stroke-linecap="round"/>
<path d="M1381.0 551.0 C1384.8 550.2 1394.8 549.5 1404.0 546.0 C1413.2 542.5 1430.7 532.7 1436.0 530.0" fill="none" stroke="#fff" stroke-width="6.1" stroke-linecap="round"/>
<circle cx="1438" cy="528.5" r="5.8" fill="#fff"/>
<path d="M1153.0 486.0 C1158.8 488.2 1174.7 496.1 1188.0 499.0 C1201.3 501.9 1220.7 501.3 1233.0 503.5 C1245.3 505.7 1257.2 510.6 1262.0 512.0" fill="none" stroke="#3a3a3a" stroke-width="9.2" stroke-linecap="round"/>
<path d="M1153.0 486.0 C1158.8 488.2 1174.7 496.1 1188.0 499.0 C1201.3 501.9 1220.7 501.3 1233.0 503.5 C1245.3 505.7 1257.2 510.6 1262.0 512.0" fill="none" stroke="#fff" stroke-width="6.1" stroke-linecap="round"/>
<path d="M1166.0 473.0 C1173.0 475.0 1192.7 479.5 1208.0 485.0 C1223.3 490.5 1248.0 501.7 1258.0 506.0 C1268.0 510.3 1255.5 507.7 1268.0 511.0 C1280.5 514.3 1316.3 521.0 1333.0 526.0 C1349.7 531.0 1360.0 536.5 1368.0 541.0 C1376.0 545.5 1379.7 548.8 1381.0 553.0 C1382.3 557.2 1380.8 563.0 1376.0 566.0 C1371.2 569.0 1363.0 571.0 1352.0 571.0 C1341.0 571.0 1323.7 569.0 1310.0 566.0 C1296.3 563.0 1279.8 557.3 1270.0 553.0 C1260.2 548.7 1254.0 544.2 1251.0 540.0 C1248.0 535.8 1250.2 531.3 1252.0 528.0 C1253.8 524.7 1260.3 521.3 1262.0 520.0" fill="none" stroke="#3a3a3a" stroke-width="9.2" stroke-linecap="round"/>
<path d="M1166.0 473.0 C1173.0 475.0 1192.7 479.5 1208.0 485.0 C1223.3 490.5 1248.0 501.7 1258.0 506.0 C1268.0 510.3 1255.5 507.7 1268.0 511.0 C1280.5 514.3 1316.3 521.0 1333.0 526.0 C1349.7 531.0 1360.0 536.5 1368.0 541.0 C1376.0 545.5 1379.7 548.8 1381.0 553.0 C1382.3 557.2 1380.8 563.0 1376.0 566.0 C1371.2 569.0 1363.0 571.0 1352.0 571.0 C1341.0 571.0 1323.7 569.0 1310.0 566.0 C1296.3 563.0 1279.8 557.3 1270.0 553.0 C1260.2 548.7 1254.0 544.2 1251.0 540.0 C1248.0 535.8 1250.2 531.3 1252.0 528.0 C1253.8 524.7 1260.3 521.3 1262.0 520.0" fill="none" stroke="#fff" stroke-width="6.1" stroke-linecap="round"/>
<g transform="translate(1246.0 472.5) scale(0.95)">
<path d="M0 16 Q2 5 12 1 Q18 -1 24 3 L36 10.5 L36 29 L25 27 L22.5 20 Q20 11 14 9.5 Q8 9 4 14 Z" fill="#161616"/>
<path d="M20 8 l2.5 -1.5 M25 12.5 l3 -2 M30 17 l3.5 -3 M5 9.5 l1.5 -1.2" stroke="#fff" stroke-width="1.5" fill="none"/>
</g>
<path d="M1268.0 503.0 Q1254.0 516.5 1259.0 534.0" fill="none" stroke="#161616" stroke-width="7" stroke-linecap="round"/>
<path d="M1268.0 503.0 Q1254.0 516.5 1259.0 534.0" fill="none" stroke="#fff" stroke-width="3.8" stroke-linecap="round"/>
<path d="M1254 530 q7 8 16 2" stroke="#161616" stroke-width="4.5" fill="none"/>
<g transform="translate(1276.0 469.5) rotate(-46.5)">
<path d="M0 0 L8 -2.6 L42.8 -1.3 L42.8 -4.6 L53.8 0 L42.8 4.6 L42.8 1.3 L8 2.6Z" fill="#161616"/>
</g>
<g transform="translate(1130.5 455.0) rotate(-151.4)">
<path d="M-25.3 -3.5 L-2 -9.4 A9.6 9.6 0 1 1 -2 9.4 L-25.3 3.5Z" fill="#fff" stroke="#161616" stroke-width="1.7"/>
<path d="M-25.3 -5 L-18.3 -1 L-25.3 5Z" fill="#161616"/>
<rect x="-38.3" y="-5.5" width="13.5" height="11" rx="1.5" fill="#fff" stroke="#161616" stroke-width="1.6"/>
<ellipse cx="0.5" cy="0" rx="4.6" ry="6.2" fill="#fff" stroke="#161616" stroke-width="3.3"/>
</g>
<g transform="translate(1115.5 466.0) rotate(-151.2)">
<path d="M-28.2 -3.5 L-2 -9.4 A9.6 9.6 0 1 1 -2 9.4 L-28.2 3.5Z" fill="#fff" stroke="#161616" stroke-width="1.7"/>
<path d="M-28.2 -5 L-21.2 -1 L-28.2 5Z" fill="#161616"/>
<rect x="-41.2" y="-5.5" width="13.5" height="11" rx="1.5" fill="#fff" stroke="#161616" stroke-width="1.6"/>
<ellipse cx="0.5" cy="0" rx="4.6" ry="6.2" fill="#fff" stroke="#161616" stroke-width="3.3"/>
</g>
<line x1="1281.0" y1="492.5" x2="1308.0" y2="492.5" stroke="#444" stroke-width="1.3"/>
<g transform="translate(1177.0 406.0) scale(0.78)">
<path d="M42 19 L46 39 L18 27 Z" fill="#fff" stroke="#161616" stroke-width="1.7" />
<path d="M24 24 L24 31 L34 35 L34 28Z" fill="#161616" stroke="#161616" stroke-width="1.2" />
<path d="M0 14.5 L22 0 L55 13 L26 23 Z" fill="#fff" stroke="#161616" stroke-width="1.8" />
<path d="M0 14.5 L26 23 L27 26 L1 17.5Z" fill="#161616" stroke="#161616" stroke-width="1.2" />
<path d="M26 23 L55 13 L55 16 L27 26" fill="none" stroke="#161616" stroke-width="1.5" />
</g>
<g transform="translate(1253.0 415.0) rotate(155.7)">
<rect x="0" y="-4" width="34.0" height="8" rx="3.5" fill="#fff" stroke="#9a9a9a" stroke-width="1.5"/>
<line x1="12" y1="3" x2="22.0" y2="3" stroke="#333" stroke-width="1.6"/>
<ellipse cx="2" cy="0" rx="8" ry="10.5" fill="#fff" stroke="#666" stroke-width="1.7"/>
<path d="M-3 -9 Q-9 0 -3 9" fill="none" stroke="#888" stroke-width="1.3"/>
</g>
<line x1="1205.5" y1="407.0" x2="1205.5" y2="413.0" stroke="#444" stroke-width="1.3"/>
<line x1="1233.0" y1="427.5" x2="1233.0" y2="436.0" stroke="#444" stroke-width="1.3"/>
<path d="M860.0 590.4 C852.5 592.6 831.4 598.6 815.3 603.8 C799.2 609.0 777.3 615.7 763.5 621.4 C749.7 627.1 742.0 631.1 732.5 638.0 C723.0 644.9 713.0 654.3 706.6 662.8 C700.2 671.2 697.0 680.1 694.2 688.7 C691.4 697.3 690.8 705.1 690.0 714.6 C689.2 724.1 689.6 734.4 689.5 745.6 C689.4 756.8 689.5 775.9 689.5 782.0" fill="none" stroke="#161616" stroke-width="17.5"/>
<path d="M860.0 590.4 C852.5 592.6 831.4 598.6 815.3 603.8 C799.2 609.0 777.3 615.7 763.5 621.4 C749.7 627.1 742.0 631.1 732.5 638.0 C723.0 644.9 713.0 654.3 706.6 662.8 C700.2 671.2 697.0 680.1 694.2 688.7 C691.4 697.3 690.8 705.1 690.0 714.6 C689.2 724.1 689.6 734.4 689.5 745.6 C689.4 756.8 689.5 775.9 689.5 782.0" fill="none" stroke="#fff" stroke-width="12.5" stroke-dasharray="1.6 2.1"/>
<path d="M537.4 733.1 C534.4 734.2 523.3 736.7 519.2 739.7 C515.1 742.7 512.3 746.9 512.6 751.3 C512.9 755.7 516.2 761.8 520.9 766.2 C525.6 770.6 533.2 773.9 540.7 777.8 C548.2 781.7 557.3 785.8 565.6 789.4 C573.9 793.0 582.7 794.9 590.4 799.3 C598.1 803.7 606.4 810.4 611.9 815.9 C617.4 821.4 620.6 826.5 623.5 832.5 C626.4 838.5 627.6 842.8 629.0 852.0 C630.4 861.2 631.5 882.0 632.0 888.0" fill="none" stroke="#161616" stroke-width="14"/>
<path d="M537.4 733.1 C534.4 734.2 523.3 736.7 519.2 739.7 C515.1 742.7 512.3 746.9 512.6 751.3 C512.9 755.7 516.2 761.8 520.9 766.2 C525.6 770.6 533.2 773.9 540.7 777.8 C548.2 781.7 557.3 785.8 565.6 789.4 C573.9 793.0 582.7 794.9 590.4 799.3 C598.1 803.7 606.4 810.4 611.9 815.9 C617.4 821.4 620.6 826.5 623.5 832.5 C626.4 838.5 627.6 842.8 629.0 852.0 C630.4 861.2 631.5 882.0 632.0 888.0" fill="none" stroke="#fff" stroke-width="9" stroke-dasharray="1.6 2.1"/>
<path d="M484.4 880.0 C484.7 877.0 483.6 868.0 486.1 862.3 C488.6 856.6 492.9 850.1 499.3 845.7 C505.7 841.3 514.5 837.2 524.2 835.8 C533.9 834.4 546.3 835.8 557.3 837.4 C568.3 839.0 580.8 842.1 590.4 845.7 C600.0 849.3 608.3 854.0 615.2 859.0 C622.1 864.0 628.2 870.3 631.8 875.5 C635.4 880.7 636.1 887.6 637.0 890.0" fill="none" stroke="#161616" stroke-width="17"/>
<path d="M484.4 880.0 C484.7 877.0 483.6 868.0 486.1 862.3 C488.6 856.6 492.9 850.1 499.3 845.7 C505.7 841.3 514.5 837.2 524.2 835.8 C533.9 834.4 546.3 835.8 557.3 837.4 C568.3 839.0 580.8 842.1 590.4 845.7 C600.0 849.3 608.3 854.0 615.2 859.0 C622.1 864.0 628.2 870.3 631.8 875.5 C635.4 880.7 636.1 887.6 637.0 890.0" fill="none" stroke="#fff" stroke-width="12" stroke-dasharray="1.6 2.1"/>
<path d="M549.0 769.5 C546.2 771.2 536.4 775.9 532.5 779.5 C528.6 783.1 525.2 786.6 525.8 791.0 C526.3 795.4 530.5 801.3 535.8 806.0 C541.0 810.7 549.6 815.1 557.3 819.2 C565.0 823.3 573.8 826.4 582.1 830.8 C590.4 835.2 599.5 839.9 607.0 845.7 C614.5 851.5 622.1 858.4 626.8 865.6 C631.5 872.8 633.7 885.1 635.1 889.0" fill="none" stroke="#161616" stroke-width="14"/>
<path d="M549.0 769.5 C546.2 771.2 536.4 775.9 532.5 779.5 C528.6 783.1 525.2 786.6 525.8 791.0 C526.3 795.4 530.5 801.3 535.8 806.0 C541.0 810.7 549.6 815.1 557.3 819.2 C565.0 823.3 573.8 826.4 582.1 830.8 C590.4 835.2 599.5 839.9 607.0 845.7 C614.5 851.5 622.1 858.4 626.8 865.6 C631.5 872.8 633.7 885.1 635.1 889.0" fill="none" stroke="#fff" stroke-width="9" stroke-dasharray="1.6 2.1"/>
<path d="M673.0 805.0 C669.5 807.4 657.5 814.6 651.7 819.2 C645.9 823.8 641.2 827.5 638.4 832.5 C635.6 837.5 635.1 843.5 635.1 849.0 C635.1 854.5 637.3 858.7 638.4 865.6 C639.5 872.5 641.2 886.3 641.7 890.4" fill="none" stroke="#161616" stroke-width="18"/>
<path d="M673.0 805.0 C669.5 807.4 657.5 814.6 651.7 819.2 C645.9 823.8 641.2 827.5 638.4 832.5 C635.6 837.5 635.1 843.5 635.1 849.0 C635.1 854.5 637.3 858.7 638.4 865.6 C639.5 872.5 641.2 886.3 641.7 890.4" fill="none" stroke="#fff" stroke-width="13" stroke-dasharray="1.6 2.1"/>
<path d="M676.5 780 L703 780 L703 790 L712 786 L720 803 L700 812 L688 812 L680 818 L667 805 L676.5 797Z" fill="#fff" stroke="#161616" stroke-width="1.7" />
<path d="M676.5 797 Q690 801 703 791 M688 799 L688 812" fill="none" stroke="#161616" stroke-width="1.3" />
<path d="M668 806 L680 818 M672 801 L685 814" fill="none" stroke="#161616" stroke-width="1.5" />
<path d="M688 800 L712 792 L716 808 L692 820Z" fill="#161616"/>
<path d="M692 806 L712 799 M693 812 L713 805" stroke="#bbb" stroke-width="1.6" stroke-dasharray="3 2.5"/>
<ellipse cx="689.8" cy="780.5" rx="13.2" ry="3.6" fill="#fff" stroke="#161616" stroke-width="1.5" transform="rotate(0.0 689.8 780.5)"/>
<path d="M607.3 885 L607.3 907 L583 915 L597 962 L619 952 L662.6 934.5 Q668.5 922 664 907 Q660 896 653.3 888 L653.3 885 Z" fill="#fff" stroke="#161616" stroke-width="1.7" />
<path d="M607.3 907 Q625 922 640 924 Q652 920 654 893" fill="none" stroke="#161616" stroke-width="1.3" />
<ellipse cx="613.0" cy="922.5" rx="20.0" ry="8.5" fill="#fff" stroke="#161616" stroke-width="1.6" transform="rotate(69.0 613.0 922.5)"/>
<ellipse cx="608.4" cy="925.7" rx="20.9" ry="8.5" fill="#fff" stroke="#161616" stroke-width="1.6" transform="rotate(69.0 608.4 925.7)"/>
<ellipse cx="603.8" cy="928.9" rx="21.8" ry="8.5" fill="#fff" stroke="#161616" stroke-width="1.6" transform="rotate(69.0 603.8 928.9)"/>
<ellipse cx="599.2" cy="932.1" rx="22.7" ry="8.5" fill="#fff" stroke="#161616" stroke-width="1.6" transform="rotate(69.0 599.2 932.1)"/>
<ellipse cx="594.6" cy="935.3" rx="23.6" ry="8.5" fill="#fff" stroke="#161616" stroke-width="1.6" transform="rotate(69.0 594.6 935.3)"/>
<ellipse cx="590.0" cy="938.5" rx="24.5" ry="8.5" fill="#fff" stroke="#161616" stroke-width="1.8" transform="rotate(69.0 590.0 938.5)"/>
<ellipse cx="630.3" cy="885.5" rx="23.0" ry="7.5" fill="#fff" stroke="#161616" stroke-width="1.7" transform="rotate(0.0 630.3 885.5)"/>
<path d="M609 886 Q630 896 652 886 Q630 878 609 886Z" fill="#161616"/>
<path d="M620 880 L622 892 M628 879 L629 893 M636 879 L637 893 M644 880 L645 891" stroke="#fff" stroke-width="1.6"/>
<path d="M592.0 936.0 C589.3 939.0 581.3 948.0 576.0 954.0 C570.7 960.0 562.8 969.0 560.1 972.0" fill="none" stroke="#161616" stroke-width="28.6"/>
<path d="M592.0 936.0 C589.3 939.0 581.3 948.0 576.0 954.0 C570.7 960.0 562.8 969.0 560.1 972.0" fill="none" stroke="#fff" stroke-width="23.6" stroke-dasharray="2.2 2.4"/>
<path d="M542.1 1008.4 C552.8 1012.3 584.8 1024.0 606.0 1031.8 C627.2 1039.6 658.8 1051.1 669.4 1055.0" fill="none" stroke="#161616" stroke-width="33"/>
<path d="M542.1 1008.4 C552.8 1012.3 584.8 1024.0 606.0 1031.8 C627.2 1039.6 658.8 1051.1 669.4 1055.0" fill="none" stroke="#fff" stroke-width="28" stroke-dasharray="2.2 2.4"/>
<path d="M556 953 L514 955.5 Q497 960 495 978 Q494 1000 503 1011 L541 1026 L546 992 L574 984 Z" fill="#fff" stroke="#161616" stroke-width="1.7" />
<ellipse cx="562.0" cy="969.0" rx="21.0" ry="8.0" fill="#fff" stroke="#161616" stroke-width="1.5" transform="rotate(62.0 562.0 969.0)"/>
<ellipse cx="557.5" cy="972.5" rx="21.0" ry="8.0" fill="#fff" stroke="#161616" stroke-width="1.5" transform="rotate(62.0 557.5 972.5)"/>
<ellipse cx="543.5" cy="1009.0" rx="17.5" ry="6.0" fill="#fff" stroke="#161616" stroke-width="2.6" transform="rotate(103.0 543.5 1009.0)"/>
<ellipse cx="539.5" cy="1007.5" rx="17.5" ry="6.0" fill="none" stroke="#161616" stroke-width="1.4" transform="rotate(103.0 539.5 1007.5)"/>
<ellipse cx="536.0" cy="1006.0" rx="17.5" ry="6.0" fill="none" stroke="#161616" stroke-width="1.4" transform="rotate(103.0 536.0 1006.0)"/>
<path d="M523 975 q-6 6 2 10" fill="none" stroke="#161616" stroke-width="1.4" />
<path d="M477 957 Q485 952 494 957 L506 962 L514 956 L520 958 L512 966 L500 970 Q486 972 477 965Z" fill="#fff" stroke="#161616" stroke-width="1.6" />
<ellipse cx="487.0" cy="961.5" rx="5.0" ry="2.6" fill="#fff" stroke="#161616" stroke-width="1.3" transform="rotate(20.0 487.0 961.5)"/>
<path d="M616.8 1086.0 C613.2 1087.1 603.0 1089.3 595.3 1092.6 C587.6 1095.9 578.1 1102.8 570.4 1105.8 C562.7 1108.8 556.3 1111.3 548.9 1110.8 C541.5 1110.2 529.6 1103.9 525.7 1102.5" fill="none" stroke="#161616" stroke-width="30"/>
<path d="M616.8 1086.0 C613.2 1087.1 603.0 1089.3 595.3 1092.6 C587.6 1095.9 578.1 1102.8 570.4 1105.8 C562.7 1108.8 556.3 1111.3 548.9 1110.8 C541.5 1110.2 529.6 1103.9 525.7 1102.5" fill="none" stroke="#fff" stroke-width="25" stroke-dasharray="2.2 2.4"/>
<path d="M725.5 1084.5 C730.4 1085.8 743.8 1089.0 755.0 1092.0 C766.2 1095.0 773.4 1098.2 792.5 1102.7 C811.6 1107.2 856.6 1116.5 869.4 1119.2" fill="none" stroke="#161616" stroke-width="30"/>
<path d="M725.5 1084.5 C730.4 1085.8 743.8 1089.0 755.0 1092.0 C766.2 1095.0 773.4 1098.2 792.5 1102.7 C811.6 1107.2 856.6 1116.5 869.4 1119.2" fill="none" stroke="#fff" stroke-width="25" stroke-dasharray="2.2 2.4"/>
<path d="M677 1039.8 L701.9 1049.7 L739.1 1065.8 L724.2 1100.6 L709.3 1094.4 L694.4 1099.4 L679.5 1101.9 L655.9 1110.6 L641 1109.3 L618.6 1101.9 Q612 1088 616 1075 L628.6 1065.8 L650.9 1075.2 L663.4 1067.7 Z" fill="#fff" stroke="#161616" stroke-width="1.7" />
<path d="M663.4 1067.7 L701.9 1049.7 M712 1054 Q715 1075 709.3 1094.4 M650.9 1075.2 L652 1092 M640 1104 q1 4 6 5 M661 1099 q0 6 -5 9" fill="none" stroke="#161616" stroke-width="1.2" />
<ellipse cx="680.7" cy="1084.5" rx="11.0" ry="19.5" fill="none" stroke="#161616" stroke-width="1.3" transform="rotate(-12.0 680.7 1084.5)"/>
<ellipse cx="683.5" cy="1083.5" rx="11.0" ry="19.5" fill="none" stroke="#161616" stroke-width="1.1" transform="rotate(-12.0 683.5 1083.5)"/>
<path d="M395 1030 L429 1015 L458 1007.5 L497.5 1020 Q507 1026 507.5 1036 L509.5 1056 L509 1078 L492.5 1094.5 L467 1109.5 L452 1117 L441 1119.5 L393 1102 L390 1046 Z" fill="#fff" stroke="#161616" stroke-width="1.8" />
<path d="M395 1030 L421.5 1026.5 L458 1041.5 Q466 1046 466 1055 L467 1109.5" fill="none" stroke="#161616" stroke-width="1.6" />
<path d="M421.5 1026.5 L458 1011 M458 1041.5 L497 1022 M473.5 1049 Q473 1044 468 1040 M473.5 1049 L473.5 1104 M491 1042 Q491 1034 484 1030 M491 1042 L491 1094 M479 1072 L479 1100" fill="none" stroke="#161616" stroke-width="1.5" />
<path d="M390 1046 L394 1042 L440 1056 Q448 1059 448 1066 L448 1070 L456 1072 L456 1101 L449.5 1102.5 L449.5 1113.5 L441 1119.5 L393 1102 Z" fill="#fff" stroke="#161616" stroke-width="1.9" />
<path d="M394 1050 L432 1062 Q438 1064 438 1070 L438 1114" fill="none" stroke="#999" stroke-width="1.1" />
<path d="M394 1042 L395 1030" fill="none" stroke="#161616" stroke-width="1.6" />
<path d="M390 1046 L395 1030 L400 1031 L394 1047Z" fill="#161616"/>
<path d="M384 1042 l6 -2 l0 5 l-6 2Z M384 1073 l5 -1 l0 5 l-5 1Z" fill="#161616"/>
<path d="M436 1023 L458 1014 L472 1019 L450 1028Z M452 1012 L470 1006 L490 1012 L472 1018Z" fill="#fff" stroke="#161616" stroke-width="1.4" />
<path d="M446 1034 L488 1015 L498 1019.5 L459 1040 Z" fill="#161616"/>
<path d="M424 1027 L448 1017 L454 1019 L430 1029Z" fill="#161616"/>
<path d="M468 1071 L508 1055 Q514 1058 512 1066 L470 1084Z" fill="#161616"/>
<path d="M472 1078 L510 1062" stroke="#9a9a9a" stroke-width="3.4" stroke-dasharray="1.6 2.4"/>
<ellipse cx="412.5" cy="1081.5" rx="4.2" ry="5.6" fill="#fff" stroke="#161616" stroke-width="1.5" transform="rotate(-10.0 412.5 1081.5)"/>
<path d="M398 1054 L398 1096 M405 1056 L405 1100 M422 1062 L422 1106 M429 1064 L429 1110" stroke="#777" stroke-width="1.2" stroke-dasharray="1.4 3.2"/>
<path d="M430 1062 l4 1 l-1 4 M431 1110 l2 4" stroke="#161616" stroke-width="1.6" fill="none"/>
<path d="M496 1076 L514 1090 L506 1100 L490 1086Z" fill="#161616"/>
<path d="M494 1082 L510 1095 M498 1078 L514 1091" stroke="#bbb" stroke-width="1.4" stroke-dasharray="2 2"/>
<path d="M507 1087 L520 1082 L534 1091 L529 1113 L512 1110 L504 1100Z" fill="#fff" stroke="#161616" stroke-width="1.7" />
<path d="M520 1082 L514 1104 L529 1113 M514 1104 L504 1100" fill="none" stroke="#161616" stroke-width="1.3" />
<path d="M442.5 917.5 L429.5 927 L430 933.5 L460.5 950.5 L485 951.5 L489.5 930 L470 932 Z" fill="#fff" stroke="#161616" stroke-width="1.8" />
<path d="M429.5 927 L460.5 944 L460.5 950.5 L430 933.5Z" fill="#161616"/>
<path d="M434 931.5 L458 945" stroke="#bbb" stroke-width="1.3" stroke-dasharray="3 2"/>
<path d="M464 934 L463 950 M468.5 932 L467.5 951 M473 932 L472 951 M477.5 931 L476.5 951 M482 931 L481 951 M486 930 L485 950" stroke="#161616" stroke-width="2.2"/>
<path d="M442.5 917.5 L463 931 L460.5 944" fill="none" stroke="#161616" stroke-width="1.5" />
<path d="M497 902 L510 898 Q518.5 900 518.5 909 Q518 917 511 920.5 L498 916Z" fill="#fff" stroke="#161616" stroke-width="2" />
<ellipse cx="512.8" cy="909.5" rx="5.0" ry="9.6" fill="#fff" stroke="#161616" stroke-width="1.7" transform="rotate(14.0 512.8 909.5)"/>
<path d="M496 900 L503 904 L501 919 L494 916Z" fill="#161616"/>
<path d="M444 903 Q443 916 458 924 Q474 931 492 923 Q499 918 498.5 908 Q480 918 462 913 Q448 908 444 903Z" fill="#fff" stroke="#161616" stroke-width="1.7" />
<path d="M444.5 902 Q452 912 470 915 Q488 916 498 906" fill="none" stroke="#161616" stroke-width="4" />
<path d="M455 884 Q456 878 470 878 L495.5 888 L492.5 908 Q474 916 452.5 906 Z" fill="#fff" stroke="#161616" stroke-width="1.9" />
<path d="M455 884 L473 893.5 L495.5 888 M473 893.5 L471.5 911" fill="none" stroke="#161616" stroke-width="1.5" />
<path d="M486.5 866.0 L485.5 888.0" fill="none" stroke="#161616" stroke-width="27"/>
<path d="M486.5 866.0 L485.5 888.0" fill="none" stroke="#fff" stroke-width="22" stroke-dasharray="1.3 2.2"/>
<path d="M472 884 Q486 893 499.5 886 L499 890 Q486 897 472.5 888Z" fill="#161616"/>
<g transform="translate(529 741) rotate(15) translate(0 -8) scale(0.95 0.78)">
<path d="M0 -4 Q4 -22 22 -25 L46 -22 L84 -20 L84 10 L46 12 L22 13 L4 16 Z" fill="#fff" stroke="#161616" stroke-width="1.8"/>
<path d="M4 -12 Q12 -2 8 15 M12 -19 Q20 -4 15 14" fill="none" stroke="#161616" stroke-width="4.6"/>
<path d="M28 -24 Q36 -6 30 13 M36 -23 Q44 -6 38 12" fill="none" stroke="#161616" stroke-width="4"/>
<path d="M46 -22 Q52 -5 46 12" fill="none" stroke="#161616" stroke-width="1.5"/>
<path d="M72 -8 L106 -8 Q112 -2 110 8 L104 12 L72 13 Z" fill="#fff" stroke="#161616" stroke-width="1.8"/>
<path d="M74 -8 L74 13 M79 -8 L79 13 M85 -8 L85 13 M91 -8 L91 13" stroke="#161616" stroke-width="2.6"/>
<path d="M97 -8 Q100 2 97 12" fill="none" stroke="#161616" stroke-width="1.5"/>
<path d="M62 -20 L62 -8 L72 -8 L72 13 L66 12" fill="none" stroke="#161616" stroke-width="2"/>
<path d="M66 -21 L112 -19 L118 -15 L104 -12 L70 -13 Z" fill="#fff" stroke="#161616" stroke-width="1.6"/>
<path d="M70 -14 L104 -12" stroke="#161616" stroke-width="3"/>
</g>
<g transform="translate(550 779) rotate(18) translate(0 -8) scale(0.95 0.74)">
<path d="M0 -2 Q4 -20 20 -22 L40 -20 L74 -18 L74 14 L40 15 L18 16 L4 16 Z" fill="#fff" stroke="#161616" stroke-width="1.8"/>
<path d="M5 -12 Q12 0 8 16 M12 -18 Q20 -2 15 16" fill="none" stroke="#161616" stroke-width="4.4"/>
<path d="M26 -21 Q34 -4 28 15 M33 -20 Q41 -4 35 15" fill="none" stroke="#161616" stroke-width="3.8"/>
<path d="M42 -20 Q48 -3 42 15" fill="none" stroke="#161616" stroke-width="1.5"/>
<path d="M62 -16 L90 -14 L90 16 L62 15 Z" fill="#fff" stroke="#161616" stroke-width="1.8"/>
<path d="M66 -15 L64 15 M72 -15 L70 15 M80 -12 L78 14" stroke="#161616" stroke-width="2.4"/>
<path d="M70 -6 L84 -2 L84 8 L70 6Z" fill="#fff" stroke="#161616" stroke-width="1.3"/>
<path d="M84 -18 L96 -26 L112 -20 L114 12 L102 22 L86 18 Z" fill="#161616" stroke="#161616" stroke-width="1.6"/>
<path d="M88 -12 L88 14 L92 16 L92 -10Z" fill="#fff"/>
<path d="M96 -4 L108 -6 L108 -1 L96 1Z M96 5 L108 3 L108 8 L96 10Z M97 -16 L108 -18 L108 -13 L97 -11Z" fill="#fff"/>
<path d="M96 -26 L100 -12 L100 14 L102 22" fill="none" stroke="#fff" stroke-width="1.2"/>
</g>
<path d="M712.0 794.0 C714.5 792.2 722.2 784.3 727.0 783.5 C731.8 782.7 738.2 786.1 741.0 789.0 C743.8 791.9 744.8 796.8 744.0 801.0 C743.2 805.2 737.5 809.8 736.0 814.0 C734.5 818.2 733.0 822.6 735.0 826.0 C737.0 829.4 741.0 832.6 748.0 834.5 C755.0 836.4 768.5 835.5 777.0 837.5 C785.5 839.5 794.3 842.8 799.0 846.5 C803.7 850.2 805.2 855.1 805.0 860.0 C804.8 864.9 798.8 871.3 798.0 876.0 C797.2 880.7 797.8 883.7 800.0 888.0 C802.2 892.3 803.8 897.0 811.0 902.0 C818.2 907.0 831.5 914.5 843.0 918.0 C854.5 921.5 868.3 921.8 880.0 923.0 C891.7 924.2 899.2 925.1 913.0 925.5 C926.8 925.9 950.9 928.4 963.0 925.5 C975.1 922.6 981.3 913.9 985.5 908.0 C989.7 902.1 989.6 896.5 988.0 890.0 C986.4 883.5 978.0 872.5 976.0 869.0" fill="none" stroke="#161616" stroke-width="15.5"/>
<path d="M712.0 794.0 C714.5 792.2 722.2 784.3 727.0 783.5 C731.8 782.7 738.2 786.1 741.0 789.0 C743.8 791.9 744.8 796.8 744.0 801.0 C743.2 805.2 737.5 809.8 736.0 814.0 C734.5 818.2 733.0 822.6 735.0 826.0 C737.0 829.4 741.0 832.6 748.0 834.5 C755.0 836.4 768.5 835.5 777.0 837.5 C785.5 839.5 794.3 842.8 799.0 846.5 C803.7 850.2 805.2 855.1 805.0 860.0 C804.8 864.9 798.8 871.3 798.0 876.0 C797.2 880.7 797.8 883.7 800.0 888.0 C802.2 892.3 803.8 897.0 811.0 902.0 C818.2 907.0 831.5 914.5 843.0 918.0 C854.5 921.5 868.3 921.8 880.0 923.0 C891.7 924.2 899.2 925.1 913.0 925.5 C926.8 925.9 950.9 928.4 963.0 925.5 C975.1 922.6 981.3 913.9 985.5 908.0 C989.7 902.1 989.6 896.5 988.0 890.0 C986.4 883.5 978.0 872.5 976.0 869.0" fill="none" stroke="#fff" stroke-width="10.5" stroke-dasharray="1.6 2.1"/>
<path d="M780.9 931.3 C785.6 933.5 798.8 940.2 809.0 944.6 C819.2 949.0 831.1 952.0 842.1 957.8 C853.1 963.6 866.4 971.3 875.2 979.3 C884.0 987.3 891.0 996.3 895.1 1005.8 C899.2 1015.2 899.3 1031.0 900.1 1036.0" fill="none" stroke="#161616" stroke-width="19"/>
<path d="M780.9 931.3 C785.6 933.5 798.8 940.2 809.0 944.6 C819.2 949.0 831.1 952.0 842.1 957.8 C853.1 963.6 866.4 971.3 875.2 979.3 C884.0 987.3 891.0 996.3 895.1 1005.8 C899.2 1015.2 899.3 1031.0 900.1 1036.0" fill="none" stroke="#fff" stroke-width="14" stroke-dasharray="1.6 2.1"/>
<path d="M946.4 1062.1 C949.0 1060.6 955.3 1055.5 962.0 1053.0 C968.7 1050.5 973.5 1047.3 986.4 1047.0 C999.3 1046.7 1022.2 1048.7 1039.3 1051.0 C1056.4 1053.3 1072.2 1057.5 1089.0 1061.0 C1105.8 1064.5 1131.5 1070.2 1140.0 1072.0" fill="none" stroke="#161616" stroke-width="28.5"/>
<path d="M946.4 1062.1 C949.0 1060.6 955.3 1055.5 962.0 1053.0 C968.7 1050.5 973.5 1047.3 986.4 1047.0 C999.3 1046.7 1022.2 1048.7 1039.3 1051.0 C1056.4 1053.3 1072.2 1057.5 1089.0 1061.0 C1105.8 1064.5 1131.5 1070.2 1140.0 1072.0" fill="none" stroke="#fff" stroke-width="23.5" stroke-dasharray="2.2 2.4"/>
<path d="M1150.0 838.0 C1148.2 845.5 1142.3 867.2 1139.0 883.0 C1135.7 898.8 1132.0 918.5 1130.0 933.0 C1128.0 947.5 1127.2 960.0 1127.0 970.0 C1126.8 980.0 1127.3 983.7 1128.7 993.1 C1130.1 1002.5 1132.1 1016.3 1135.4 1026.2 C1138.7 1036.1 1144.0 1045.6 1148.6 1052.7 C1153.2 1059.8 1160.6 1066.3 1163.0 1069.0" fill="none" stroke="#161616" stroke-width="24"/>
<path d="M1150.0 838.0 C1148.2 845.5 1142.3 867.2 1139.0 883.0 C1135.7 898.8 1132.0 918.5 1130.0 933.0 C1128.0 947.5 1127.2 960.0 1127.0 970.0 C1126.8 980.0 1127.3 983.7 1128.7 993.1 C1130.1 1002.5 1132.1 1016.3 1135.4 1026.2 C1138.7 1036.1 1144.0 1045.6 1148.6 1052.7 C1153.2 1059.8 1160.6 1066.3 1163.0 1069.0" fill="none" stroke="#fff" stroke-width="19" stroke-dasharray="1.6 2.1"/>
<path d="M880.2 1057 L880.2 1104 L875.2 1104.3 Q864 1118 866 1133.5 L905 1153.2 L924.9 1145 L926.6 1088.6 L949.7 1077 L941 1049 L934 1047 L926.6 1050.5 L926.6 1057 Z" fill="#fff" stroke="#161616" stroke-width="1.7" />
<path d="M926.6 1057 L926.6 1088.6 M880.2 1104 Q884 1130 905 1153.2 M880.5 1107 Q903 1116 926 1106" fill="none" stroke="#161616" stroke-width="1.4" />
<path d="M881 1110.5 Q903 1120 926 1110" fill="none" stroke="#161616" stroke-width="3.4" />
<ellipse cx="903.4" cy="1058.0" rx="23.2" ry="5.5" fill="#fff" stroke="#161616" stroke-width="1.6" transform="rotate(0.0 903.4 1058.0)"/>
<path d="M899.5 1033.0 L899.5 1055.0" fill="none" stroke="#161616" stroke-width="31"/>
<path d="M899.5 1033.0 L899.5 1055.0" fill="none" stroke="#fff" stroke-width="26" stroke-dasharray="1.5 1.7"/>
<g transform="translate(1040.0 1068.0) rotate(130.2)">
<path d="M-3 -4.5 L33.0 -4.5 L38.0 0 L33.0 4.5 L-3 4.5 Z" fill="#fff" stroke="#161616" stroke-width="1.9"/>
<path d="M0 0 L23.5 0" stroke="#161616" stroke-width="6.5" stroke-dasharray="1.5 2.1" fill="none"/>
<path d="M0 -2.3 L23.5 -2.3" stroke="#fff" stroke-width="2" fill="none"/>
<rect x="-6" y="-6.0" width="8" height="12.0" fill="#161616"/>
</g>
<line x1="1046.0" y1="1035.0" x2="1033.0" y2="1066.0" stroke="#161616" stroke-width="8.4" stroke-linecap="round"/>
<line x1="1046.0" y1="1035.0" x2="1033.0" y2="1066.0" stroke="#fff" stroke-width="5.0" stroke-linecap="round"/>
<path d="M1139 1056 L1160 1062 L1178 1053 L1196 1052 L1206 1060 L1221 1066 L1260 1074 L1260 1102 L1243 1101 L1236 1118 L1222 1112 L1226 1096 L1208 1092 L1196 1098 L1176 1094 L1160 1090 L1139 1086Z" fill="#fff" stroke="#161616" stroke-width="1.7" />
<path d="M1160 1062 L1160 1090 M1178 1053 L1176 1094 M1208 1064 Q1204 1078 1208 1092" fill="none" stroke="#161616" stroke-width="1.5" />
<line x1="1214.0" y1="1062.0" x2="1196.0" y2="1100.0" stroke="#161616" stroke-width="9.4" stroke-linecap="round"/>
<line x1="1214.0" y1="1062.0" x2="1196.0" y2="1100.0" stroke="#fff" stroke-width="6.0" stroke-linecap="round"/>
<g transform="translate(1190.0 1104.0) rotate(121.4)">
<path d="M-3 -4.5 L29.6 -4.5 L34.6 0 L29.6 4.5 L-3 4.5 Z" fill="#fff" stroke="#161616" stroke-width="1.9"/>
<path d="M0 0 L21.4 0" stroke="#161616" stroke-width="6.5" stroke-dasharray="1.5 2.1" fill="none"/>
<path d="M0 -2.3 L21.4 -2.3" stroke="#fff" stroke-width="2" fill="none"/>
<rect x="-6" y="-6.0" width="8" height="12.0" fill="#161616"/>
</g>
<path d="M1160 1092 L1176 1090 L1184 1098 L1182 1106 L1166 1104Z" fill="#fff" stroke="#161616" stroke-width="1.6" />
<path d="M1231.4 1109.0 C1229.2 1112.5 1222.4 1123.1 1218.0 1130.0 C1213.6 1136.9 1207.1 1147.0 1204.9 1150.4" fill="none" stroke="#161616" stroke-width="21.5"/>
<path d="M1231.4 1109.0 C1229.2 1112.5 1222.4 1123.1 1218.0 1130.0 C1213.6 1136.9 1207.1 1147.0 1204.9 1150.4" fill="none" stroke="#fff" stroke-width="16.5" stroke-dasharray="1.6 2.1"/>
<path d="M1222 1090 L1243 1098 L1240 1112 L1228 1118 L1218 1110Z" fill="#fff" stroke="#161616" stroke-width="1.6" />
<path d="M1196 1140 L1214 1152 L1206 1176 L1186 1184 L1182 1200 L1152 1200 L1152 1170 Q1156 1148 1176 1142 Z" fill="#fff" stroke="#161616" stroke-width="1.7" />
<ellipse cx="1167.0" cy="1168.0" rx="8.0" ry="13.0" fill="#fff" stroke="#161616" stroke-width="1.4" transform="rotate(25.0 1167.0 1168.0)"/>
<path d="M1160 1178 L1174 1158" fill="none" stroke="#161616" stroke-width="1.2" />
<path d="M1200 1142 L1210 1150 L1203 1174" fill="none" stroke="#161616" stroke-width="2.6" />
<path d="M1152 1198 L1184 1198 L1190 1206 L1200 1204 L1204 1214 L1196 1240 L1158 1241 L1150 1232 L1144 1216 Z" fill="#fff" stroke="#161616" stroke-width="1.7" />
<path d="M1152 1216 L1184 1212 L1190 1206 M1184 1212 L1186 1240" fill="none" stroke="#161616" stroke-width="1.3" />
<path d="M1186 1216 L1202 1220 L1214 1226 Q1218 1230 1214 1234 L1198 1232 L1186 1230Z" fill="#fff" stroke="#161616" stroke-width="1.5" />
<path d="M1150.0 1224.0 C1146.7 1225.2 1137.8 1229.1 1130.4 1231.5 C1123.0 1233.9 1113.9 1238.8 1105.6 1238.2 C1097.3 1237.7 1089.0 1231.5 1080.7 1228.2 C1072.4 1224.9 1063.4 1221.0 1055.9 1218.3 C1048.5 1215.5 1039.3 1212.8 1036.0 1211.7" fill="none" stroke="#161616" stroke-width="15.5"/>
<path d="M1150.0 1224.0 C1146.7 1225.2 1137.8 1229.1 1130.4 1231.5 C1123.0 1233.9 1113.9 1238.8 1105.6 1238.2 C1097.3 1237.7 1089.0 1231.5 1080.7 1228.2 C1072.4 1224.9 1063.4 1221.0 1055.9 1218.3 C1048.5 1215.5 1039.3 1212.8 1036.0 1211.7" fill="none" stroke="#fff" stroke-width="10.5" stroke-dasharray="1.6 2.1"/>
<path d="M1168.7 1241.0 C1168.8 1245.0 1168.9 1256.7 1169.5 1265.0 C1170.1 1273.3 1170.3 1279.2 1172.5 1291.0 C1174.7 1302.8 1177.9 1323.5 1182.5 1336.0 C1187.1 1348.5 1194.8 1358.3 1200.0 1366.0 C1205.2 1373.7 1211.7 1379.3 1214.0 1382.0" fill="none" stroke="#161616" stroke-width="15"/>
<path d="M1168.7 1241.0 C1168.8 1245.0 1168.9 1256.7 1169.5 1265.0 C1170.1 1273.3 1170.3 1279.2 1172.5 1291.0 C1174.7 1302.8 1177.9 1323.5 1182.5 1336.0 C1187.1 1348.5 1194.8 1358.3 1200.0 1366.0 C1205.2 1373.7 1211.7 1379.3 1214.0 1382.0" fill="none" stroke="#fff" stroke-width="10" stroke-dasharray="1.6 2.1"/>
<path d="M973 1226 L1021 1226 L1021 1248 Q997 1262 973 1248Z" fill="#fff" stroke="#161616" stroke-width="2" />
<path d="M976 1232 L976 1250 M981 1233 L981 1253 M986 1234 L986 1255 M991 1234 L991 1256 M996 1234 L996 1256 M1001 1234 L1001 1256 M1006 1234 L1006 1255 M1011 1233 L1011 1253 M1016 1232 L1016 1251" stroke="#161616" stroke-width="2.6"/>
<ellipse cx="997.0" cy="1226.0" rx="24.0" ry="7.0" fill="#fff" stroke="#161616" stroke-width="1.8" transform="rotate(0.0 997.0 1226.0)"/>
<path d="M980 1224 L980 1196 Q984 1180 1000 1178 L1012 1180 L1042 1196 L1046 1206 L1040 1222 L1024 1216 L1014 1222 L1014 1226 Z" fill="#fff" stroke="#161616" stroke-width="1.8" />
<path d="M984 1198 L1004 1190 L1016 1200 L1012 1216 M1004 1190 L1006 1182 M1024 1190 L1018 1212 M1034 1194 L1028 1216" fill="none" stroke="#161616" stroke-width="1.4" />
<path d="M1036.0 1208.0 L1042.0 1212.0" fill="none" stroke="#161616" stroke-width="20"/>
<path d="M1036.0 1208.0 L1042.0 1212.0" fill="none" stroke="#fff" stroke-width="15" stroke-dasharray="1.5 1.5"/>
<g transform="translate(784 927) rotate(163) scale(0.92 -0.74) translate(0 3)">
<path d="M0 -2 Q4 -20 20 -22 L40 -20 L74 -18 L74 14 L40 15 L18 16 L4 16 Z" fill="#fff" stroke="#161616" stroke-width="1.8"/>
<path d="M5 -12 Q12 0 8 16 M12 -18 Q20 -2 15 16" fill="none" stroke="#161616" stroke-width="4.4"/>
<path d="M26 -21 Q34 -4 28 15 M33 -20 Q41 -4 35 15" fill="none" stroke="#161616" stroke-width="3.8"/>
<path d="M42 -20 Q48 -3 42 15" fill="none" stroke="#161616" stroke-width="1.5"/>
<path d="M62 -16 L90 -14 L90 16 L62 15 Z" fill="#fff" stroke="#161616" stroke-width="1.8"/>
<path d="M66 -15 L64 15 M72 -15 L70 15 M80 -12 L78 14" stroke="#161616" stroke-width="2.4"/>
<path d="M70 -6 L84 -2 L84 8 L70 6Z" fill="#fff" stroke="#161616" stroke-width="1.3"/>
<path d="M84 -18 L96 -26 L112 -20 L114 12 L102 22 L86 18 Z" fill="#161616" stroke="#161616" stroke-width="1.6"/>
<path d="M88 -12 L88 14 L92 16 L92 -10Z" fill="#fff"/>
<path d="M96 -4 L108 -6 L108 -1 L96 1Z M96 5 L108 3 L108 8 L96 10Z M97 -16 L108 -18 L108 -13 L97 -11Z" fill="#fff"/>
<path d="M96 -26 L100 -12 L100 14 L102 22" fill="none" stroke="#fff" stroke-width="1.2"/>
</g>
<path d="M810.0 723.0 C807.4 721.9 799.1 719.0 794.6 716.6 C790.1 714.2 785.1 710.8 783.2 708.4 C781.3 706.0 781.3 704.4 783.2 702.2 C785.1 700.0 789.3 698.3 794.6 695.0 C799.9 691.7 811.6 684.6 815.0 682.5" fill="none" stroke="#161616" stroke-width="8.2"/>
<path d="M810.0 723.0 C807.4 721.9 799.1 719.0 794.6 716.6 C790.1 714.2 785.1 710.8 783.2 708.4 C781.3 706.0 781.3 704.4 783.2 702.2 C785.1 700.0 789.3 698.3 794.6 695.0 C799.9 691.7 811.6 684.6 815.0 682.5" fill="none" stroke="#fff" stroke-width="3.1999999999999993" stroke-dasharray="1.1 2.4"/>
<path d="M811.3 749.0 C810.8 751.8 806.1 760.6 808.0 765.6 C809.9 770.6 817.1 777.1 822.9 778.8 C828.7 780.4 836.2 778.8 842.8 775.5 C849.4 772.2 859.3 761.8 862.6 759.0" fill="none" stroke="#161616" stroke-width="8.6"/>
<path d="M811.3 749.0 C810.8 751.8 806.1 760.6 808.0 765.6 C809.9 770.6 817.1 777.1 822.9 778.8 C828.7 780.4 836.2 778.8 842.8 775.5 C849.4 772.2 859.3 761.8 862.6 759.0" fill="none" stroke="#fff" stroke-width="3.5999999999999996" stroke-dasharray="1.1 2.4"/>
<path d="M1093.0 795.5 C1088.8 795.8 1072.3 794.1 1068.0 797.0 C1063.7 799.9 1063.7 809.2 1067.0 813.0 C1070.3 816.8 1081.2 820.8 1088.0 820.0 C1094.8 819.2 1104.7 810.0 1108.0 808.0" fill="none" stroke="#161616" stroke-width="8.6"/>
<path d="M1093.0 795.5 C1088.8 795.8 1072.3 794.1 1068.0 797.0 C1063.7 799.9 1063.7 809.2 1067.0 813.0 C1070.3 816.8 1081.2 820.8 1088.0 820.0 C1094.8 819.2 1104.7 810.0 1108.0 808.0" fill="none" stroke="#fff" stroke-width="3.5999999999999996" stroke-dasharray="1.1 2.4"/>
<path d="M1245.0 848.0 C1241.2 848.8 1226.3 849.5 1222.5 853.0 C1218.7 856.5 1219.1 864.7 1222.0 869.0 C1224.9 873.3 1234.3 879.2 1240.0 879.0 C1245.7 878.8 1253.3 869.8 1256.0 868.0" fill="none" stroke="#161616" stroke-width="8.6"/>
<path d="M1245.0 848.0 C1241.2 848.8 1226.3 849.5 1222.5 853.0 C1218.7 856.5 1219.1 864.7 1222.0 869.0 C1224.9 873.3 1234.3 879.2 1240.0 879.0 C1245.7 878.8 1253.3 869.8 1256.0 868.0" fill="none" stroke="#fff" stroke-width="3.5999999999999996" stroke-dasharray="1.1 2.4"/>
<path d="M1400.0 893.0 C1397.0 894.0 1385.2 895.3 1382.0 899.0 C1378.8 902.7 1378.2 910.7 1381.0 915.0 C1383.8 919.3 1393.0 925.3 1399.0 925.0 C1405.0 924.7 1414.0 915.0 1417.0 913.0" fill="none" stroke="#161616" stroke-width="8.6"/>
<path d="M1400.0 893.0 C1397.0 894.0 1385.2 895.3 1382.0 899.0 C1378.8 902.7 1378.2 910.7 1381.0 915.0 C1383.8 919.3 1393.0 925.3 1399.0 925.0 C1405.0 924.7 1414.0 915.0 1417.0 913.0" fill="none" stroke="#fff" stroke-width="3.5999999999999996" stroke-dasharray="1.1 2.4"/>
<path d="M853.0 742.5 C854.0 742.8 852.7 742.1 859.3 744.0 C865.9 745.9 878.7 751.2 892.5 754.0 C906.3 756.8 922.7 759.1 942.0 760.6 C961.3 762.1 988.6 761.9 1008.3 763.0 C1028.0 764.1 1045.4 764.7 1060.0 767.0 C1074.6 769.3 1090.0 775.3 1096.0 777.0" fill="none" stroke="#161616" stroke-width="21.5"/>
<path d="M853.0 742.5 C854.0 742.8 852.7 742.1 859.3 744.0 C865.9 745.9 878.7 751.2 892.5 754.0 C906.3 756.8 922.7 759.1 942.0 760.6 C961.3 762.1 988.6 761.9 1008.3 763.0 C1028.0 764.1 1045.4 764.7 1060.0 767.0 C1074.6 769.3 1090.0 775.3 1096.0 777.0" fill="none" stroke="#fff" stroke-width="16.5" stroke-dasharray="1.6 2.1"/>
<path d="M1203.0 818.0 C1206.7 819.1 1217.5 822.3 1225.0 824.5 C1232.5 826.7 1244.2 829.9 1248.0 831.0" fill="none" stroke="#161616" stroke-width="15"/>
<path d="M1203.0 818.0 C1206.7 819.1 1217.5 822.3 1225.0 824.5 C1232.5 826.7 1244.2 829.9 1248.0 831.0" fill="none" stroke="#fff" stroke-width="10" stroke-dasharray="1.6 2.1"/>
<path d="M1300.0 858.0 C1308.3 859.8 1333.7 864.9 1350.0 868.5 C1366.3 872.1 1390.0 877.7 1398.0 879.5" fill="none" stroke="#161616" stroke-width="22"/>
<path d="M1300.0 858.0 C1308.3 859.8 1333.7 864.9 1350.0 868.5 C1366.3 872.1 1390.0 877.7 1398.0 879.5" fill="none" stroke="#fff" stroke-width="17" stroke-dasharray="1.6 2.1"/>
<path d="M1452.5 899.0 C1457.5 900.1 1471.9 904.9 1482.5 905.5 C1493.1 906.1 1510.4 903.0 1516.0 902.5" fill="none" stroke="#161616" stroke-width="6"/>
<path d="M1452.5 899.0 C1457.5 900.1 1471.9 904.9 1482.5 905.5 C1493.1 906.1 1510.4 903.0 1516.0 902.5" fill="none" stroke="#fff" stroke-width="1" stroke-dasharray="1.1 2.4"/>
<path d="M808 716 Q813 706 824 710 L852 722 L856 742 L846 748 L828 742 L822 752 L812 748 L812 738 Q804 730 808 716Z" fill="#fff" stroke="#161616" stroke-width="1.7" />
<path d="M828 742 Q822 730 830 714 M812 738 L822 742" fill="none" stroke="#161616" stroke-width="1.3" />
<path d="M848.0 738.0 L855.0 741.0" fill="none" stroke="#161616" stroke-width="24"/>
<path d="M848.0 738.0 L855.0 741.0" fill="none" stroke="#fff" stroke-width="19" stroke-dasharray="1.5 1.5"/>
<path d="M1095.5 769 L1183 803 L1178 833 L1168 828 L1166 842 L1140 843 L1136 808 L1118 800 L1112 806 L1100 802 L1102 794 L1093 790.5 Z" fill="#fff" stroke="#161616" stroke-width="1.7" />
<path d="M1122 779 Q1117 790 1120 801 M1141 787 Q1136 798 1138 810 M1136 808 Q1150 800 1168 828" fill="none" stroke="#161616" stroke-width="1.3" />
<path d="M1178.0 810.0 L1203.0 819.0" fill="none" stroke="#161616" stroke-width="33"/>
<path d="M1178.0 810.0 L1203.0 819.0" fill="none" stroke="#fff" stroke-width="28" stroke-dasharray="1.5 1.6"/>
<path d="M1247.5 828 L1300 845.5 L1298 870 L1272 862 L1266 868 L1254 864 L1256 856 L1242.5 850 Z" fill="#fff" stroke="#161616" stroke-width="1.7" />
<path d="M1272 838 Q1267 850 1270 862 M1284 842 Q1279 854 1282 866" fill="none" stroke="#161616" stroke-width="1.3" />
<path d="M1290.0 855.5 L1300.0 858.0" fill="none" stroke="#161616" stroke-width="26"/>
<path d="M1290.0 855.5 L1300.0 858.0" fill="none" stroke="#fff" stroke-width="21" stroke-dasharray="1.5 1.5"/>
<path d="M1400 875.5 L1450 893 Q1455 902 1448 911 L1430 908 L1424 914 L1412 910 L1414 902 L1397.5 895.5 Z" fill="#fff" stroke="#161616" stroke-width="1.7" />
<path d="M1426 885 Q1421 897 1424 908" fill="none" stroke="#161616" stroke-width="1.3" />
<ellipse cx="1446.5" cy="901.0" rx="5.0" ry="10.0" fill="#fff" stroke="#161616" stroke-width="1.5" transform="rotate(-15.0 1446.5 901.0)"/>
<path d="M1392.0 872.0 L1402.0 875.0" fill="none" stroke="#161616" stroke-width="24"/>
<path d="M1392.0 872.0 L1402.0 875.0" fill="none" stroke="#fff" stroke-width="19" stroke-dasharray="1.5 1.5"/>
<path d="M804.0 682.0 l9 -6 l6 8 l-8 7 l-8 -3Z" fill="#161616"/>
<path d="M834.0 679.0 C836.7 678.2 844.8 677.3 850.0 674.0 C855.2 670.7 861.8 664.8 865.0 659.0 C868.2 653.2 868.3 642.3 869.0 639.0" fill="none" stroke="#333" stroke-width="5.2" stroke-linecap="round"/>
<path d="M834.0 679.0 C836.7 678.2 844.8 677.3 850.0 674.0 C855.2 670.7 861.8 664.8 865.0 659.0 C868.2 653.2 868.3 642.3 869.0 639.0" fill="none" stroke="#fff" stroke-width="2.6" stroke-linecap="round"/>
<path d="M829.0 674.0 C829.7 671.3 830.7 662.2 833.0 658.0 C835.3 653.8 841.0 652.8 843.0 649.0 C845.0 645.2 844.7 637.3 845.0 635.0" fill="none" stroke="#333" stroke-width="5.2" stroke-linecap="round"/>
<path d="M829.0 674.0 C829.7 671.3 830.7 662.2 833.0 658.0 C835.3 653.8 841.0 652.8 843.0 649.0 C845.0 645.2 844.7 637.3 845.0 635.0" fill="none" stroke="#fff" stroke-width="2.6" stroke-linecap="round"/>
<g transform="translate(826.0 678.0) rotate(-24.0)">
<rect x="-11" y="-6.5" width="22" height="13" rx="3" fill="#fff" stroke="#161616" stroke-width="1.6"/>
</g>
<g transform="translate(844.0 646.0) rotate(12.0)">
<rect x="-4.5" y="-9" width="9" height="18" rx="2" fill="#fff" stroke="#161616" stroke-width="1.5"/>
<rect x="-5.5" y="-13" width="11" height="6" rx="1.5" fill="#fff" stroke="#161616" stroke-width="1.5"/>
</g>
<g transform="translate(868.0 650.0) rotate(12.0)">
<rect x="-4.5" y="-9" width="9" height="18" rx="2" fill="#fff" stroke="#161616" stroke-width="1.5"/>
<rect x="-5.5" y="-13" width="11" height="6" rx="1.5" fill="#fff" stroke="#161616" stroke-width="1.5"/>
</g>
<g transform="translate(846.0 627.0) scale(1.18)">
<path d="M-6 -8 L3 -9 L9 -3 L8 6 L0 9.5 L-8 5 L-9 -3Z" fill="#161616"/>
<path d="M-4 -5 L2 -6 L5 -2 L-1 0 L-6 -1Z" fill="#fff"/>
<path d="M-1.5 -4 L1.5 -4.4 L2.5 -2.6 L-0.5 -1.6Z" fill="#161616"/>
<path d="M-5 2 L-1 4 L-1 7 M2 3 L6 1" stroke="#fff" stroke-width="1.2" fill="none"/>
</g>
<g transform="translate(871.0 631.0) scale(1.18)">
<path d="M-6 -8 L3 -9 L9 -3 L8 6 L0 9.5 L-8 5 L-9 -3Z" fill="#161616"/>
<path d="M-4 -5 L2 -6 L5 -2 L-1 0 L-6 -1Z" fill="#fff"/>
<path d="M-1.5 -4 L1.5 -4.4 L2.5 -2.6 L-0.5 -1.6Z" fill="#161616"/>
<path d="M-5 2 L-1 4 L-1 7 M2 3 L6 1" stroke="#fff" stroke-width="1.2" fill="none"/>
</g>
<path d="M881.0 732.0 l9 -6 l6 8 l-8 7 l-8 -3Z" fill="#161616"/>
<path d="M911.0 729.0 C913.7 728.2 923.0 727.2 927.0 724.0 C931.0 720.8 933.2 715.7 935.3 710.0 C937.3 704.3 938.6 693.3 939.3 690.0" fill="none" stroke="#333" stroke-width="5.2" stroke-linecap="round"/>
<path d="M911.0 729.0 C913.7 728.2 923.0 727.2 927.0 724.0 C931.0 720.8 933.2 715.7 935.3 710.0 C937.3 704.3 938.6 693.3 939.3 690.0" fill="none" stroke="#fff" stroke-width="2.6" stroke-linecap="round"/>
<path d="M906.0 724.0 C906.7 721.3 908.8 712.0 910.0 708.0 C911.2 704.0 912.6 703.7 913.5 700.0 C914.4 696.3 915.2 688.3 915.5 686.0" fill="none" stroke="#333" stroke-width="5.2" stroke-linecap="round"/>
<path d="M906.0 724.0 C906.7 721.3 908.8 712.0 910.0 708.0 C911.2 704.0 912.6 703.7 913.5 700.0 C914.4 696.3 915.2 688.3 915.5 686.0" fill="none" stroke="#fff" stroke-width="2.6" stroke-linecap="round"/>
<g transform="translate(903.0 728.0) rotate(-24.0)">
<rect x="-11" y="-6.5" width="22" height="13" rx="3" fill="#fff" stroke="#161616" stroke-width="1.6"/>
</g>
<g transform="translate(914.5 697.0) rotate(12.0)">
<rect x="-4.5" y="-9" width="9" height="18" rx="2" fill="#fff" stroke="#161616" stroke-width="1.5"/>
<rect x="-5.5" y="-13" width="11" height="6" rx="1.5" fill="#fff" stroke="#161616" stroke-width="1.5"/>
</g>
<g transform="translate(938.3 701.0) rotate(12.0)">
<rect x="-4.5" y="-9" width="9" height="18" rx="2" fill="#fff" stroke="#161616" stroke-width="1.5"/>
<rect x="-5.5" y="-13" width="11" height="6" rx="1.5" fill="#fff" stroke="#161616" stroke-width="1.5"/>
</g>
<g transform="translate(916.5 678.0) scale(1.18)">
<path d="M-6 -8 L3 -9 L9 -3 L8 6 L0 9.5 L-8 5 L-9 -3Z" fill="#161616"/>
<path d="M-4 -5 L2 -6 L5 -2 L-1 0 L-6 -1Z" fill="#fff"/>
<path d="M-1.5 -4 L1.5 -4.4 L2.5 -2.6 L-0.5 -1.6Z" fill="#161616"/>
<path d="M-5 2 L-1 4 L-1 7 M2 3 L6 1" stroke="#fff" stroke-width="1.2" fill="none"/>
</g>
<g transform="translate(941.3 682.0) scale(1.18)">
<path d="M-6 -8 L3 -9 L9 -3 L8 6 L0 9.5 L-8 5 L-9 -3Z" fill="#161616"/>
<path d="M-4 -5 L2 -6 L5 -2 L-1 0 L-6 -1Z" fill="#fff"/>
<path d="M-1.5 -4 L1.5 -4.4 L2.5 -2.6 L-0.5 -1.6Z" fill="#161616"/>
<path d="M-5 2 L-1 4 L-1 7 M2 3 L6 1" stroke="#fff" stroke-width="1.2" fill="none"/>
</g>
<path d="M1093.5 754.5 l9 -6 l6 8 l-8 7 l-8 -3Z" fill="#161616"/>
<path d="M1123.5 751.5 C1126.2 750.7 1135.8 749.5 1139.5 746.5 C1143.2 743.5 1144.0 739.0 1145.8 733.5 C1147.5 728.0 1149.1 716.8 1149.8 713.5" fill="none" stroke="#333" stroke-width="5.2" stroke-linecap="round"/>
<path d="M1123.5 751.5 C1126.2 750.7 1135.8 749.5 1139.5 746.5 C1143.2 743.5 1144.0 739.0 1145.8 733.5 C1147.5 728.0 1149.1 716.8 1149.8 713.5" fill="none" stroke="#fff" stroke-width="2.6" stroke-linecap="round"/>
<path d="M1118.5 746.5 C1119.2 743.8 1121.3 734.5 1122.5 730.5 C1123.7 726.5 1124.7 726.2 1125.5 722.5 C1126.3 718.8 1127.2 710.8 1127.5 708.5" fill="none" stroke="#333" stroke-width="5.2" stroke-linecap="round"/>
<path d="M1118.5 746.5 C1119.2 743.8 1121.3 734.5 1122.5 730.5 C1123.7 726.5 1124.7 726.2 1125.5 722.5 C1126.3 718.8 1127.2 710.8 1127.5 708.5" fill="none" stroke="#fff" stroke-width="2.6" stroke-linecap="round"/>
<g transform="translate(1115.5 750.5) rotate(-24.0)">
<rect x="-11" y="-6.5" width="22" height="13" rx="3" fill="#fff" stroke="#161616" stroke-width="1.6"/>
</g>
<g transform="translate(1126.5 719.5) rotate(12.0)">
<rect x="-4.5" y="-9" width="9" height="18" rx="2" fill="#fff" stroke="#161616" stroke-width="1.5"/>
<rect x="-5.5" y="-13" width="11" height="6" rx="1.5" fill="#fff" stroke="#161616" stroke-width="1.5"/>
</g>
<g transform="translate(1148.8 724.5) rotate(12.0)">
<rect x="-4.5" y="-9" width="9" height="18" rx="2" fill="#fff" stroke="#161616" stroke-width="1.5"/>
<rect x="-5.5" y="-13" width="11" height="6" rx="1.5" fill="#fff" stroke="#161616" stroke-width="1.5"/>
</g>
<g transform="translate(1128.5 700.5) scale(1.18)">
<path d="M-6 -8 L3 -9 L9 -3 L8 6 L0 9.5 L-8 5 L-9 -3Z" fill="#161616"/>
<path d="M-4 -5 L2 -6 L5 -2 L-1 0 L-6 -1Z" fill="#fff"/>
<path d="M-1.5 -4 L1.5 -4.4 L2.5 -2.6 L-0.5 -1.6Z" fill="#161616"/>
<path d="M-5 2 L-1 4 L-1 7 M2 3 L6 1" stroke="#fff" stroke-width="1.2" fill="none"/>
</g>
<g transform="translate(1151.8 705.5) scale(1.18)">
<path d="M-6 -8 L3 -9 L9 -3 L8 6 L0 9.5 L-8 5 L-9 -3Z" fill="#161616"/>
<path d="M-4 -5 L2 -6 L5 -2 L-1 0 L-6 -1Z" fill="#fff"/>
<path d="M-1.5 -4 L1.5 -4.4 L2.5 -2.6 L-0.5 -1.6Z" fill="#161616"/>
<path d="M-5 2 L-1 4 L-1 7 M2 3 L6 1" stroke="#fff" stroke-width="1.2" fill="none"/>
</g>
<path d="M1241.8 814.5 l9 -6 l6 8 l-8 7 l-8 -3Z" fill="#161616"/>
<path d="M1271.8 811.5 C1274.4 810.7 1283.0 809.9 1287.8 806.5 C1292.5 803.1 1297.3 796.9 1300.0 791.0 C1302.7 785.1 1303.3 774.3 1304.0 771.0" fill="none" stroke="#333" stroke-width="5.2" stroke-linecap="round"/>
<path d="M1271.8 811.5 C1274.4 810.7 1283.0 809.9 1287.8 806.5 C1292.5 803.1 1297.3 796.9 1300.0 791.0 C1302.7 785.1 1303.3 774.3 1304.0 771.0" fill="none" stroke="#fff" stroke-width="2.6" stroke-linecap="round"/>
<path d="M1266.8 806.5 C1267.4 803.8 1268.9 794.9 1270.8 790.5 C1272.6 786.1 1276.5 784.1 1278.0 780.0 C1279.5 775.9 1279.7 768.3 1280.0 766.0" fill="none" stroke="#333" stroke-width="5.2" stroke-linecap="round"/>
<path d="M1266.8 806.5 C1267.4 803.8 1268.9 794.9 1270.8 790.5 C1272.6 786.1 1276.5 784.1 1278.0 780.0 C1279.5 775.9 1279.7 768.3 1280.0 766.0" fill="none" stroke="#fff" stroke-width="2.6" stroke-linecap="round"/>
<g transform="translate(1263.8 810.5) rotate(-24.0)">
<rect x="-11" y="-6.5" width="22" height="13" rx="3" fill="#fff" stroke="#161616" stroke-width="1.6"/>
</g>
<g transform="translate(1279.0 777.0) rotate(12.0)">
<rect x="-4.5" y="-9" width="9" height="18" rx="2" fill="#fff" stroke="#161616" stroke-width="1.5"/>
<rect x="-5.5" y="-13" width="11" height="6" rx="1.5" fill="#fff" stroke="#161616" stroke-width="1.5"/>
</g>
<g transform="translate(1303.0 782.0) rotate(12.0)">
<rect x="-4.5" y="-9" width="9" height="18" rx="2" fill="#fff" stroke="#161616" stroke-width="1.5"/>
<rect x="-5.5" y="-13" width="11" height="6" rx="1.5" fill="#fff" stroke="#161616" stroke-width="1.5"/>
</g>
<g transform="translate(1281.0 758.0) scale(1.18)">
<path d="M-6 -8 L3 -9 L9 -3 L8 6 L0 9.5 L-8 5 L-9 -3Z" fill="#161616"/>
<path d="M-4 -5 L2 -6 L5 -2 L-1 0 L-6 -1Z" fill="#fff"/>
<path d="M-1.5 -4 L1.5 -4.4 L2.5 -2.6 L-0.5 -1.6Z" fill="#161616"/>
<path d="M-5 2 L-1 4 L-1 7 M2 3 L6 1" stroke="#fff" stroke-width="1.2" fill="none"/>
</g>
<g transform="translate(1306.0 763.0) scale(1.18)">
<path d="M-6 -8 L3 -9 L9 -3 L8 6 L0 9.5 L-8 5 L-9 -3Z" fill="#161616"/>
<path d="M-4 -5 L2 -6 L5 -2 L-1 0 L-6 -1Z" fill="#fff"/>
<path d="M-1.5 -4 L1.5 -4.4 L2.5 -2.6 L-0.5 -1.6Z" fill="#161616"/>
<path d="M-5 2 L-1 4 L-1 7 M2 3 L6 1" stroke="#fff" stroke-width="1.2" fill="none"/>
</g>
<path d="M1405.5 860.8 l9 -6 l6 8 l-8 7 l-8 -3Z" fill="#161616"/>
<path d="M1435.5 857.8 C1438.2 856.9 1447.0 856.0 1451.5 852.8 C1456.0 849.5 1460.2 844.2 1462.8 838.5 C1465.3 832.8 1466.1 821.8 1466.8 818.5" fill="none" stroke="#333" stroke-width="5.2" stroke-linecap="round"/>
<path d="M1435.5 857.8 C1438.2 856.9 1447.0 856.0 1451.5 852.8 C1456.0 849.5 1460.2 844.2 1462.8 838.5 C1465.3 832.8 1466.1 821.8 1466.8 818.5" fill="none" stroke="#fff" stroke-width="2.6" stroke-linecap="round"/>
<path d="M1430.5 852.8 C1431.2 850.1 1432.8 841.0 1434.5 836.8 C1436.2 832.5 1439.4 831.4 1440.8 827.5 C1442.1 823.6 1442.4 815.8 1442.8 813.5" fill="none" stroke="#333" stroke-width="5.2" stroke-linecap="round"/>
<path d="M1430.5 852.8 C1431.2 850.1 1432.8 841.0 1434.5 836.8 C1436.2 832.5 1439.4 831.4 1440.8 827.5 C1442.1 823.6 1442.4 815.8 1442.8 813.5" fill="none" stroke="#fff" stroke-width="2.6" stroke-linecap="round"/>
<g transform="translate(1427.5 856.8) rotate(-24.0)">
<rect x="-11" y="-6.5" width="22" height="13" rx="3" fill="#fff" stroke="#161616" stroke-width="1.6"/>
</g>
<g transform="translate(1441.8 824.5) rotate(12.0)">
<rect x="-4.5" y="-9" width="9" height="18" rx="2" fill="#fff" stroke="#161616" stroke-width="1.5"/>
<rect x="-5.5" y="-13" width="11" height="6" rx="1.5" fill="#fff" stroke="#161616" stroke-width="1.5"/>
</g>
<g transform="translate(1465.8 829.5) rotate(12.0)">
<rect x="-4.5" y="-9" width="9" height="18" rx="2" fill="#fff" stroke="#161616" stroke-width="1.5"/>
<rect x="-5.5" y="-13" width="11" height="6" rx="1.5" fill="#fff" stroke="#161616" stroke-width="1.5"/>
</g>
<g transform="translate(1443.8 805.5) scale(1.18)">
<path d="M-6 -8 L3 -9 L9 -3 L8 6 L0 9.5 L-8 5 L-9 -3Z" fill="#161616"/>
<path d="M-4 -5 L2 -6 L5 -2 L-1 0 L-6 -1Z" fill="#fff"/>
<path d="M-1.5 -4 L1.5 -4.4 L2.5 -2.6 L-0.5 -1.6Z" fill="#161616"/>
<path d="M-5 2 L-1 4 L-1 7 M2 3 L6 1" stroke="#fff" stroke-width="1.2" fill="none"/>
</g>
<g transform="translate(1468.8 810.5) scale(1.18)">
<path d="M-6 -8 L3 -9 L9 -3 L8 6 L0 9.5 L-8 5 L-9 -3Z" fill="#161616"/>
<path d="M-4 -5 L2 -6 L5 -2 L-1 0 L-6 -1Z" fill="#fff"/>
<path d="M-1.5 -4 L1.5 -4.4 L2.5 -2.6 L-0.5 -1.6Z" fill="#161616"/>
<path d="M-5 2 L-1 4 L-1 7 M2 3 L6 1" stroke="#fff" stroke-width="1.2" fill="none"/>
</g>
<path d="M1510.5 895.8 l9 -6 l6 8 l-8 7 l-8 -3Z" fill="#161616"/>
<path d="M1540.5 892.8 C1543.2 891.9 1552.2 891.4 1556.5 887.8 C1560.8 884.1 1564.2 877.1 1566.5 871.0 C1568.8 864.9 1569.8 854.3 1570.5 851.0" fill="none" stroke="#333" stroke-width="5.2" stroke-linecap="round"/>
<path d="M1540.5 892.8 C1543.2 891.9 1552.2 891.4 1556.5 887.8 C1560.8 884.1 1564.2 877.1 1566.5 871.0 C1568.8 864.9 1569.8 854.3 1570.5 851.0" fill="none" stroke="#fff" stroke-width="2.6" stroke-linecap="round"/>
<path d="M1535.5 887.8 C1536.2 885.1 1538.0 876.4 1539.5 871.8 C1541.0 867.1 1543.3 864.3 1544.5 860.0 C1545.7 855.7 1546.2 848.3 1546.5 846.0" fill="none" stroke="#333" stroke-width="5.2" stroke-linecap="round"/>
<path d="M1535.5 887.8 C1536.2 885.1 1538.0 876.4 1539.5 871.8 C1541.0 867.1 1543.3 864.3 1544.5 860.0 C1545.7 855.7 1546.2 848.3 1546.5 846.0" fill="none" stroke="#fff" stroke-width="2.6" stroke-linecap="round"/>
<g transform="translate(1532.5 891.8) rotate(-24.0)">
<rect x="-11" y="-6.5" width="22" height="13" rx="3" fill="#fff" stroke="#161616" stroke-width="1.6"/>
</g>
<g transform="translate(1545.5 857.0) rotate(12.0)">
<rect x="-4.5" y="-9" width="9" height="18" rx="2" fill="#fff" stroke="#161616" stroke-width="1.5"/>
<rect x="-5.5" y="-13" width="11" height="6" rx="1.5" fill="#fff" stroke="#161616" stroke-width="1.5"/>
</g>
<g transform="translate(1569.5 862.0) rotate(12.0)">
<rect x="-4.5" y="-9" width="9" height="18" rx="2" fill="#fff" stroke="#161616" stroke-width="1.5"/>
<rect x="-5.5" y="-13" width="11" height="6" rx="1.5" fill="#fff" stroke="#161616" stroke-width="1.5"/>
</g>
<g transform="translate(1547.5 838.0) scale(1.18)">
<path d="M-6 -8 L3 -9 L9 -3 L8 6 L0 9.5 L-8 5 L-9 -3Z" fill="#161616"/>
<path d="M-4 -5 L2 -6 L5 -2 L-1 0 L-6 -1Z" fill="#fff"/>
<path d="M-1.5 -4 L1.5 -4.4 L2.5 -2.6 L-0.5 -1.6Z" fill="#161616"/>
<path d="M-5 2 L-1 4 L-1 7 M2 3 L6 1" stroke="#fff" stroke-width="1.2" fill="none"/>
</g>
<g transform="translate(1572.5 843.0) scale(1.18)">
<path d="M-6 -8 L3 -9 L9 -3 L8 6 L0 9.5 L-8 5 L-9 -3Z" fill="#161616"/>
<path d="M-4 -5 L2 -6 L5 -2 L-1 0 L-6 -1Z" fill="#fff"/>
<path d="M-1.5 -4 L1.5 -4.4 L2.5 -2.6 L-0.5 -1.6Z" fill="#161616"/>
<path d="M-5 2 L-1 4 L-1 7 M2 3 L6 1" stroke="#fff" stroke-width="1.2" fill="none"/>
</g>
<path d="M930.5 840.0 C933.3 842.5 942.0 849.3 947.2 855.0 C952.5 860.7 959.5 870.8 962.0 874.0" fill="none" stroke="#333" stroke-width="4.6" stroke-linecap="round"/>
<path d="M930.5 840.0 C933.3 842.5 942.0 849.3 947.2 855.0 C952.5 860.7 959.5 870.8 962.0 874.0" fill="none" stroke="#fff" stroke-width="2.1999999999999997" stroke-linecap="round"/>
<g transform="translate(930.5 840.0) rotate(54.7)">
<rect x="-8" y="-4" width="17" height="8" rx="2" fill="#fff" stroke="#161616" stroke-width="1.4"/>
</g>
<path d="M916.5 820.2 L923.5 830.1" stroke="#161616" stroke-width="4.5"/>
<ellipse cx="916.5" cy="820.2" rx="5.2" ry="6.2" fill="#fff" stroke="#161616" stroke-width="4" transform="rotate(-20.0 916.5 820.2)"/>
<path d="M947.0 828.5 C948.4 832.0 953.0 841.7 955.5 849.2 C958.0 856.8 960.9 869.9 962.0 874.0" fill="none" stroke="#333" stroke-width="4.6" stroke-linecap="round"/>
<path d="M947.0 828.5 C948.4 832.0 953.0 841.7 955.5 849.2 C958.0 856.8 960.9 869.9 962.0 874.0" fill="none" stroke="#fff" stroke-width="2.1999999999999997" stroke-linecap="round"/>
<g transform="translate(947.0 828.5) rotate(68.8)">
<rect x="-8" y="-4" width="17" height="8" rx="2" fill="#fff" stroke="#161616" stroke-width="1.4"/>
</g>
<path d="M938.0 805.3 L942.5 816.9" stroke="#161616" stroke-width="4.5"/>
<ellipse cx="938.0" cy="805.3" rx="5.2" ry="6.2" fill="#fff" stroke="#161616" stroke-width="4" transform="rotate(-20.0 938.0 805.3)"/>
<g transform="translate(966.0 879.0) rotate(58.0)">
<rect x="-11" y="-7" width="22" height="14" rx="3" fill="#fff" stroke="#161616" stroke-width="1.6"/>
</g>
<line x1="1092.0" y1="905.5" x2="1121.0" y2="905.5" stroke="#aaa" stroke-width="1.3"/>
<path d="M1256.0 1090.0 L1270.0 1093.0" fill="none" stroke="#161616" stroke-width="26"/>
<path d="M1256.0 1090.0 L1270.0 1093.0" fill="none" stroke="#fff" stroke-width="21" stroke-dasharray="1.5 1.6"/>
<path d="M1318.0 1100.0 C1315.8 1097.7 1309.7 1088.9 1305.0 1086.0 C1300.3 1083.1 1294.8 1081.5 1290.0 1082.6 C1285.2 1083.7 1280.0 1087.6 1276.3 1092.6 C1272.6 1097.6 1269.1 1105.0 1268.0 1112.5 C1266.9 1120.0 1267.2 1127.6 1269.7 1137.3 C1272.2 1147.0 1277.4 1161.0 1282.9 1170.4 C1288.4 1179.8 1295.3 1188.1 1302.8 1193.6 C1310.2 1199.1 1319.9 1203.0 1327.6 1203.5 C1335.3 1204.0 1343.4 1200.5 1349.1 1196.9 C1354.8 1193.3 1359.8 1184.5 1362.0 1182.0" fill="none" stroke="#161616" stroke-width="15"/>
<path d="M1318.0 1100.0 C1315.8 1097.7 1309.7 1088.9 1305.0 1086.0 C1300.3 1083.1 1294.8 1081.5 1290.0 1082.6 C1285.2 1083.7 1280.0 1087.6 1276.3 1092.6 C1272.6 1097.6 1269.1 1105.0 1268.0 1112.5 C1266.9 1120.0 1267.2 1127.6 1269.7 1137.3 C1272.2 1147.0 1277.4 1161.0 1282.9 1170.4 C1288.4 1179.8 1295.3 1188.1 1302.8 1193.6 C1310.2 1199.1 1319.9 1203.0 1327.6 1203.5 C1335.3 1204.0 1343.4 1200.5 1349.1 1196.9 C1354.8 1193.3 1359.8 1184.5 1362.0 1182.0" fill="none" stroke="#fff" stroke-width="10" stroke-dasharray="1.6 2.1"/>
<path d="M1402.1 1052.8 C1407.6 1054.5 1424.2 1058.6 1435.2 1062.8 C1446.2 1067.0 1457.2 1071.6 1468.3 1077.7 C1479.3 1083.8 1492.7 1091.5 1501.5 1099.2 C1510.3 1106.9 1517.2 1116.3 1521.3 1124.0 C1525.4 1131.7 1525.5 1139.9 1526.3 1145.6 C1527.1 1151.3 1526.3 1155.9 1526.3 1158.0" fill="none" stroke="#161616" stroke-width="16.5"/>
<path d="M1402.1 1052.8 C1407.6 1054.5 1424.2 1058.6 1435.2 1062.8 C1446.2 1067.0 1457.2 1071.6 1468.3 1077.7 C1479.3 1083.8 1492.7 1091.5 1501.5 1099.2 C1510.3 1106.9 1517.2 1116.3 1521.3 1124.0 C1525.4 1131.7 1525.5 1139.9 1526.3 1145.6 C1527.1 1151.3 1526.3 1155.9 1526.3 1158.0" fill="none" stroke="#fff" stroke-width="11.5" stroke-dasharray="1.6 2.1"/>
<path d="M1351.6 1124.9 C1362.8 1128.4 1396.0 1138.7 1418.7 1145.9 C1441.4 1153.1 1476.5 1164.3 1488.0 1168.0" fill="none" stroke="#161616" stroke-width="22"/>
<path d="M1351.6 1124.9 C1362.8 1128.4 1396.0 1138.7 1418.7 1145.9 C1441.4 1153.1 1476.5 1164.3 1488.0 1168.0" fill="none" stroke="#fff" stroke-width="17" stroke-dasharray="1.6 2.1"/>
<path d="M1296 1092 L1318 1086 L1346 1100 L1352 1110 L1350 1138 L1336 1146 L1318 1138 L1300 1122 L1292 1108Z" fill="#fff" stroke="#161616" stroke-width="1.7" />
<path d="M1318 1086 L1316 1110 L1300 1122 M1316 1110 L1336 1118" fill="none" stroke="#161616" stroke-width="1.4" />
<path d="M1340.0 1121.0 L1352.0 1125.0" fill="none" stroke="#161616" stroke-width="28"/>
<path d="M1340.0 1121.0 L1352.0 1125.0" fill="none" stroke="#fff" stroke-width="23" stroke-dasharray="1.5 1.6"/>
<line x1="1344.0" y1="1102.0" x2="1328.0" y2="1140.0" stroke="#161616" stroke-width="8.9" stroke-linecap="round"/>
<line x1="1344.0" y1="1102.0" x2="1328.0" y2="1140.0" stroke="#fff" stroke-width="5.5" stroke-linecap="round"/>
<g transform="translate(1327.0 1141.0) rotate(130.0)">
<path d="M-3 -4.5 L27.6 -4.5 L32.6 0 L27.6 4.5 L-3 4.5 Z" fill="#fff" stroke="#161616" stroke-width="1.9"/>
<path d="M0 0 L20.2 0" stroke="#161616" stroke-width="6.5" stroke-dasharray="1.5 2.1" fill="none"/>
<path d="M0 -2.3 L20.2 -2.3" stroke="#fff" stroke-width="2" fill="none"/>
<rect x="-6" y="-6.0" width="8" height="12.0" fill="#161616"/>
</g>
<path d="M1300 1124 L1316 1122 L1324 1132 L1320 1140 L1304 1136Z" fill="#fff" stroke="#161616" stroke-width="1.5" />
<path d="M1492 1154 L1508 1150 L1514 1154 L1538 1154 L1540 1196 L1524 1200 L1500 1192 L1484 1180Z" fill="#fff" stroke="#161616" stroke-width="1.7" />
<path d="M1514 1154 Q1506 1176 1524 1200" fill="none" stroke="#161616" stroke-width="1.3" />
<ellipse cx="1526.5" cy="1155.5" rx="12.0" ry="3.6" fill="#fff" stroke="#161616" stroke-width="1.5" transform="rotate(0.0 1526.5 1155.5)"/>
<line x1="1502.0" y1="1154.0" x2="1488.0" y2="1186.0" stroke="#161616" stroke-width="8.9" stroke-linecap="round"/>
<line x1="1502.0" y1="1154.0" x2="1488.0" y2="1186.0" stroke="#fff" stroke-width="5.5" stroke-linecap="round"/>
<g transform="translate(1491.0 1195.0) rotate(133.8)">
<path d="M-3 -4.5 L28.2 -4.5 L33.2 0 L28.2 4.5 L-3 4.5 Z" fill="#fff" stroke="#161616" stroke-width="1.9"/>
<path d="M0 0 L20.6 0" stroke="#161616" stroke-width="6.5" stroke-dasharray="1.5 2.1" fill="none"/>
<path d="M0 -2.3 L20.6 -2.3" stroke="#fff" stroke-width="2" fill="none"/>
<rect x="-6" y="-6.0" width="8" height="12.0" fill="#161616"/>
</g>
<path d="M1470 1180 L1486 1178 L1492 1188 L1488 1196 L1474 1192Z" fill="#fff" stroke="#161616" stroke-width="1.5" />
<path d="M1333 1028 L1346 1016 L1364 1011 L1384 1018 L1400 1030 L1406 1046 L1402 1062 L1384 1058 L1370 1050 L1356 1062 L1342 1058 L1334 1046Z" fill="#fff" stroke="#161616" stroke-width="1.8" />
<path d="M1346 1016 L1350 1034 L1334 1046 M1350 1034 L1372 1040 L1370 1050 M1372 1040 L1392 1026 M1358 1013 L1380 1024 M1366 1011 L1388 1022 M1384 1032 Q1380 1046 1386 1058 M1394 1036 Q1390 1050 1396 1060" fill="none" stroke="#161616" stroke-width="1.4" />
<path d="M1352 1056 l4 -6 l4 2 l-2 8Z" fill="#161616"/>
<path d="M1352 1184 Q1350 1160 1366 1152 Q1384 1148 1392 1162 L1390 1180 L1376 1188 L1362 1190Z" fill="#fff" stroke="#161616" stroke-width="1.8" />
<path d="M1358 1170 Q1372 1176 1380 1190 M1364 1164 Q1378 1170 1386 1184" fill="none" stroke="#161616" stroke-width="2.2" />
<path d="M1372 1192 L1396 1180 L1420 1204 L1436 1222 L1442 1240 L1410 1254 L1394 1246 L1384 1226Z" fill="#fff" stroke="#161616" stroke-width="1.8" />
<path d="M1384 1226 Q1404 1224 1420 1204" fill="none" stroke="#161616" stroke-width="3" />
<path d="M1390 1236 Q1410 1232 1426 1212" fill="none" stroke="#161616" stroke-width="1.6" />
<path d="M1394 1246 L1432 1228 L1434 1234 L1398 1252Z" fill="#161616"/>
<path d="M1416 1214 L1424 1236 M1421 1210 L1429 1232 M1426 1208 L1434 1228 M1431 1212 L1438 1226" stroke="#161616" stroke-width="1.6"/>
<path d="M1410 1168 L1422 1162 Q1429 1164 1428 1171 L1418 1178Z" fill="#fff" stroke="#161616" stroke-width="1.8" />
<path d="M1400 1176 L1414 1170 M1402 1182 L1416 1176" fill="none" stroke="#161616" stroke-width="2" />
<path d="M1212 1378 L1228 1376 L1252 1384 L1256 1402 L1240 1411 L1222 1406 Z" fill="#fff" stroke="#161616" stroke-width="1.7" />
<path d="M1226 1377 Q1234 1390 1228 1408 M1236 1380 Q1244 1392 1238 1410" fill="none" stroke="#161616" stroke-width="2.2" />
<path d="M1250 1382 L1290 1360 L1306 1357 Q1322 1362 1322 1378 L1316 1392 L1298 1398 L1286 1392 L1262 1402 L1254 1400Z" fill="#fff" stroke="#161616" stroke-width="1.8" />
<path d="M1262 1376 L1268 1398 M1272 1370 L1280 1394 M1290 1360 Q1300 1376 1298 1398" fill="none" stroke="#161616" stroke-width="1.4" />
<path d="M1294 1362 L1306 1360 Q1318 1364 1318 1378 L1312 1388 L1302 1392 Q1306 1376 1294 1362Z" fill="#161616"/>
<path d="M1302 1368 Q1312 1370 1312 1380 L1308 1386 Q1308 1374 1302 1368Z" fill="#fff"/>
<g transform="translate(0.0 0.0)" stroke="#2b2b2b" fill="#fff" stroke-width="1.7">
<path d="M646 1276 L656 1270 Q668 1272 670 1282 L670 1304 L658 1310 L648 1306Z"/>
<path d="M656 1288 L670 1282 M657 1298 L670 1293" fill="none" stroke-width="1.4"/>
<path d="M595.5 1281 L596.5 1267.5 L611 1260 L620 1250 L634 1252.5 L640 1261 L646.5 1277.5 L652 1296 L657.5 1310 L656.5 1327 L640 1339.5 L634 1348 L597 1354.5 Z"/>
<path d="M596.5 1267.5 L611 1260 L640 1261 M611 1260 L620 1250" fill="none" stroke-width="1.3"/>
<path d="M597 1268 l8 -4 l4 1 l-8 5Z" fill="#2b2b2b" stroke="none"/>
<path d="M607 1306 L612 1300 L648 1290 L650 1296 L616 1307 L616 1338 L645 1330 L650 1336 L637 1346 L607 1349Z" stroke-width="1.5"/>
<path d="M616 1307 L616 1338 M621 1306 L621 1337 M626 1310 L626 1335" fill="none" stroke-width="1.5"/>
<path d="M628 1343 l6 -3 l2 4 l-6 3Z" stroke-width="1.3"/>
<ellipse cx="595" cy="1319.5" rx="12" ry="34" stroke-width="2"/>
<ellipse cx="587.5" cy="1319.5" rx="13" ry="35.5" stroke-width="3"/>
<ellipse cx="586" cy="1319.5" rx="8.5" ry="29" stroke-width="1.4"/>
<path d="M592 1352 l6 -1 l1 5 l-6 2Z" stroke-width="1.6"/>
<ellipse cx="585" cy="1300.5" rx="3.6" ry="4.8" stroke-width="1.5"/>
<ellipse cx="585" cy="1313.5" rx="3.6" ry="4.8" stroke-width="1.5"/>
<ellipse cx="585" cy="1326.0" rx="3.6" ry="4.8" stroke-width="1.5"/>
<ellipse cx="585" cy="1338.5" rx="3.6" ry="4.8" stroke-width="1.5"/>
</g>
<g transform="translate(501.0 1373.0) rotate(-24)">
<path d="M-12 -11.5 L4 -11.5 L4 -8 L14 -8 L14 8 L4 8 L4 11.5 L-12 11.5Z" fill="#fff" stroke="#c4c4c4" stroke-width="1.3"/>
<ellipse cx="-12" cy="0" rx="5.5" ry="11.5" fill="#fff" stroke="#c9c9c9" stroke-width="1.3"/>
<path d="M-4 -11.5 Q0 0 -4 11.5 M0 -11.5 Q4 0 0 11.5 M4 -8 Q7 0 4 8" fill="none" stroke="#c4c4c4" stroke-width="1.1"/>
<path d="M9 -8 L14 -8 Q19.5 0 14 8 L10 8" fill="none" stroke="#2b2b2b" stroke-width="2"/>
</g>
<g transform="translate(550.0 1351.0) rotate(-24)">
<path d="M-17 3 L-8 3 L-8 -2 L-3 -2 L-3 2 L6 2 L8 -2 L17 -2 L17 2 L8 3" fill="none" stroke="#c8c8c8" stroke-width="1.2"/>
<path d="M-12 1 L-8 1 L-8 -3" fill="none" stroke="#8a8a8a" stroke-width="1.6"/>
</g>
<line x1="506.6" y1="1334.5" x2="506.6" y2="1360.0" stroke="#555" stroke-width="1.3"/>
<line x1="547.6" y1="1320.7" x2="547.6" y2="1347.0" stroke="#555" stroke-width="1.3"/>
<line x1="620.2" y1="1349.5" x2="620.2" y2="1370.5" stroke="#aaa" stroke-width="1.6"/>
<g stroke="#2b2b2b" fill="#fff" stroke-width="1.7">
<path d="M606 1531 L640 1520 L652 1522 Q664 1526 663 1534 Q660 1538 652 1534 L646 1530 L620 1543.5 L604 1537Z"/>
<path d="M612 1535 L644 1522 M616 1539 L650 1525" fill="none" stroke-width="1.2" stroke-dasharray="3 2"/>
<path d="M634 1500 L642 1496 Q654 1498 656 1508 Q656 1516 648 1518 L638 1516Z"/>
<path d="M585 1522 Q583 1514 592 1510 L600 1506 L606 1500 L618 1496 L634 1498 L642 1508 L644 1520 L636 1528 L618 1536 L606 1534 L598 1538 Q588 1536 585 1530Z" fill="#2b2b2b"/>
<path d="M604 1508 Q610 1520 606 1532 M612 1503 Q619 1516 615 1532 M621 1500 Q628 1512 625 1529 M630 1500 Q637 1510 634 1525" fill="none" stroke="#fff" stroke-width="2.2"/>
<ellipse cx="590.5" cy="1524" rx="3" ry="4.5" stroke="#fff" stroke-width="1.4" fill="#2b2b2b"/>
<ellipse cx="598" cy="1521" rx="3" ry="4.5" stroke="#fff" stroke-width="1.4" fill="#2b2b2b"/>
<path d="M606 1512 l5 -2 l2 14 l-5 3Z" fill="#fff" stroke="none"/>
</g>
<g transform="translate(515.0 1566.0) rotate(-24)">
<path d="M-12 -11.5 L4 -11.5 L4 -8 L14 -8 L14 8 L4 8 L4 11.5 L-12 11.5Z" fill="#fff" stroke="#c4c4c4" stroke-width="1.3"/>
<ellipse cx="-12" cy="0" rx="5.5" ry="11.5" fill="#fff" stroke="#c9c9c9" stroke-width="1.3"/>
<path d="M-4 -11.5 Q0 0 -4 11.5 M0 -11.5 Q4 0 0 11.5 M4 -8 Q7 0 4 8" fill="none" stroke="#c4c4c4" stroke-width="1.1"/>
<path d="M9 -8 L14 -8 Q19.5 0 14 8 L10 8" fill="none" stroke="#2b2b2b" stroke-width="2"/>
</g>
<g transform="translate(564.0 1545.0) rotate(-24)">
<path d="M-17 3 L-8 3 L-8 -2 L-3 -2 L-3 2 L6 2 L8 -2 L17 -2 L17 2 L8 3" fill="none" stroke="#c8c8c8" stroke-width="1.2"/>
<path d="M-12 1 L-8 1 L-8 -3" fill="none" stroke="#8a8a8a" stroke-width="1.6"/>
</g>
<line x1="522.0" y1="1527.0" x2="522.0" y2="1551.0" stroke="#555" stroke-width="1.3"/>
<line x1="559.0" y1="1516.0" x2="559.0" y2="1545.5" stroke="#555" stroke-width="1.3"/>
<line x1="632.0" y1="1539.5" x2="632.0" y2="1564.0" stroke="#aaa" stroke-width="1.8"/>
<g stroke="#2b2b2b" fill="#fff" stroke-width="1.7">
<path d="M617 1680 L624 1673.5 Q635 1676 637 1686 L637.5 1706 L628 1712 L619 1714Z"/>
<path d="M566 1694 L566 1676 Q568 1670 574 1668 L590 1660 L596 1662 L580 1672 L578 1694Z"/>
<path d="M572 1694 L572 1674 M576 1672 L592 1663" fill="none" stroke-width="1.3"/>
<path d="M580 1678 Q581 1672 587 1669 L592 1657.5 L611.5 1665 L619 1681 L620 1737 L609 1743 L579.5 1745.5 L574.5 1737 L577 1700Z"/>
<path d="M587 1669 L596 1672 Q604 1676 604.5 1688 L605 1743 M592 1657.5 L596 1672" fill="none" stroke-width="1.3"/>
<path d="M602 1704 Q600 1711 606 1713.5 L632 1702 L632 1691 Z" stroke-width="1.9"/>
<path d="M560 1697 L584 1692 Q590 1694 590 1702 L589 1726 L574 1735 L563 1737Z"/>
<path d="M574 1735 L576 1744 L582 1745 L582 1730" fill="none" stroke-width="1.4"/>
<ellipse cx="554.5" cy="1719.5" rx="10.5" ry="25" stroke-width="2.6" transform="rotate(-4 554.5 1719.5)"/>
<ellipse cx="553" cy="1720" rx="6.5" ry="19" stroke-width="1.3" transform="rotate(-4 553 1720)"/>
<ellipse cx="552.5" cy="1712" rx="4" ry="5.2" stroke-width="1.6"/>
<ellipse cx="552.5" cy="1730" rx="4" ry="5.2" stroke-width="1.6"/>
</g>
<line x1="599.0" y1="1744.0" x2="599.0" y2="1769.0" stroke="#555" stroke-width="1.3"/>
<g transform="translate(241.7 388.5)" stroke="#2b2b2b" fill="#fff" stroke-width="1.7">
<path d="M646 1276 L656 1270 Q668 1272 670 1282 L670 1304 L658 1310 L648 1306Z"/>
<path d="M656 1288 L670 1282 M657 1298 L670 1293" fill="none" stroke-width="1.4"/>
<path d="M595.5 1281 L596.5 1267.5 L611 1260 L620 1250 L634 1252.5 L640 1261 L646.5 1277.5 L652 1296 L657.5 1310 L656.5 1327 L640 1339.5 L634 1348 L597 1354.5 Z"/>
<path d="M596.5 1267.5 L611 1260 L640 1261 M611 1260 L620 1250" fill="none" stroke-width="1.3"/>
<path d="M597 1268 l8 -4 l4 1 l-8 5Z" fill="#2b2b2b" stroke="none"/>
<path d="M607 1306 L612 1300 L648 1290 L650 1296 L616 1307 L616 1338 L645 1330 L650 1336 L637 1346 L607 1349Z" stroke-width="1.5"/>
<path d="M616 1307 L616 1338 M621 1306 L621 1337 M626 1310 L626 1335" fill="none" stroke-width="1.5"/>
<path d="M628 1343 l6 -3 l2 4 l-6 3Z" stroke-width="1.3"/>
<ellipse cx="595" cy="1319.5" rx="12" ry="34" stroke-width="2"/>
<ellipse cx="587.5" cy="1319.5" rx="13" ry="35.5" stroke-width="3"/>
<ellipse cx="586" cy="1319.5" rx="8.5" ry="29" stroke-width="1.4"/>
<path d="M592 1352 l6 -1 l1 5 l-6 2Z" stroke-width="1.6"/>
<ellipse cx="585" cy="1306.0" rx="3.6" ry="4.8" stroke-width="1.5"/>
<ellipse cx="585" cy="1319.5" rx="3.6" ry="4.8" stroke-width="1.5"/>
<ellipse cx="585" cy="1333.0" rx="3.6" ry="4.8" stroke-width="1.5"/>
</g>
<g transform="translate(742.5 1757.5) rotate(-24)">
<path d="M-12 -11.5 L4 -11.5 L4 -8 L14 -8 L14 8 L4 8 L4 11.5 L-12 11.5Z" fill="#fff" stroke="#c4c4c4" stroke-width="1.3"/>
<ellipse cx="-12" cy="0" rx="5.5" ry="11.5" fill="#fff" stroke="#c9c9c9" stroke-width="1.3"/>
<path d="M-4 -11.5 Q0 0 -4 11.5 M0 -11.5 Q4 0 0 11.5 M4 -8 Q7 0 4 8" fill="none" stroke="#c4c4c4" stroke-width="1.1"/>
<path d="M9 -8 L14 -8 Q19.5 0 14 8 L10 8" fill="none" stroke="#2b2b2b" stroke-width="2"/>
</g>
<g transform="translate(791.5 1737.5) rotate(-24)">
<path d="M-17 3 L-8 3 L-8 -2 L-3 -2 L-3 2 L6 2 L8 -2 L17 -2 L17 2 L8 3" fill="none" stroke="#c8c8c8" stroke-width="1.2"/>
<path d="M-12 1 L-8 1 L-8 -3" fill="none" stroke="#8a8a8a" stroke-width="1.6"/>
</g>
<line x1="746.7" y1="1720.0" x2="746.7" y2="1750.0" stroke="#555" stroke-width="1.3"/>
<line x1="788.3" y1="1706.7" x2="788.3" y2="1738.5" stroke="#555" stroke-width="1.3"/>
<line x1="867.7" y1="1730.0" x2="867.7" y2="1760.0" stroke="#555" stroke-width="1.3"/>
<g stroke="#2b2b2b" fill="#fff" stroke-width="1.7">
<path d="M1096 1665 L1108 1664 L1122 1678 Q1126 1690 1122 1700 L1124 1722 L1116 1732 L1104 1734 L1104 1690Z"/>
<path d="M1090 1668 L1100 1664 L1116 1668 L1122 1680" fill="none" stroke-width="3"/>
<path d="M1110 1712 Q1124 1708 1123 1722 Q1120 1732 1108 1730" fill="none" stroke-width="2"/>
<path d="M1063 1680 L1096.5 1665 L1116 1676 L1116 1722 L1086 1735.5 L1063 1727Z"/>
<path d="M1063 1680 L1086 1691 L1116 1676 M1086 1691 L1086 1735.5" fill="none" stroke-width="1.4"/>
<path d="M1086.5 1691 L1086.5 1735" fill="none" stroke-width="3.6"/>
<path d="M1088 1700 L1114 1689 M1088 1718 L1114 1706" fill="none" stroke-width="1.5"/>
<path d="M1058 1697 L1076 1691 L1080 1694 L1080 1728 L1060 1734Z"/>
<rect x="1041.5" y="1696" width="19" height="42" rx="8" stroke-width="1.8" transform="rotate(-6 1051 1717)"/>
<rect x="1041.5" y="1701" width="12.5" height="34" rx="6" fill="#2b2b2b" stroke-width="1.2" transform="rotate(-6 1048 1718)"/>
<ellipse cx="1047.5" cy="1708.0" rx="2.8" ry="3.6" fill="#fff" stroke="none"/>
<ellipse cx="1047.5" cy="1718.5" rx="2.8" ry="3.6" fill="#fff" stroke="none"/>
<ellipse cx="1047.5" cy="1729.0" rx="2.8" ry="3.6" fill="#fff" stroke="none"/>
</g>
<g transform="translate(976.5 1758.0) rotate(-24)">
<path d="M-12 -11.5 L4 -11.5 L4 -8 L14 -8 L14 8 L4 8 L4 11.5 L-12 11.5Z" fill="#fff" stroke="#c4c4c4" stroke-width="1.3"/>
<ellipse cx="-12" cy="0" rx="5.5" ry="11.5" fill="#fff" stroke="#c9c9c9" stroke-width="1.3"/>
<path d="M-4 -11.5 Q0 0 -4 11.5 M0 -11.5 Q4 0 0 11.5 M4 -8 Q7 0 4 8" fill="none" stroke="#c4c4c4" stroke-width="1.1"/>
<path d="M9 -8 L14 -8 Q19.5 0 14 8 L10 8" fill="none" stroke="#2b2b2b" stroke-width="2"/>
</g>
<g transform="translate(1019.5 1740.0) rotate(-24)">
<path d="M-17 3 L-8 3 L-8 -2 L-3 -2 L-3 2 L6 2 L8 -2 L17 -2 L17 2 L8 3" fill="none" stroke="#c8c8c8" stroke-width="1.2"/>
<path d="M-12 1 L-8 1 L-8 -3" fill="none" stroke="#8a8a8a" stroke-width="1.6"/>
</g>
<line x1="982.4" y1="1719.5" x2="982.4" y2="1746.5" stroke="#555" stroke-width="1.3"/>
<line x1="1016.3" y1="1713.0" x2="1016.3" y2="1742.0" stroke="#555" stroke-width="1.3"/>
<line x1="1097.0" y1="1729.5" x2="1097.0" y2="1754.0" stroke="#555" stroke-width="1.3"/>
<g stroke="#2b2b2b" fill="#fff" stroke-width="1.7">
<ellipse cx="1235.5" cy="1683" rx="22" ry="39" transform="rotate(20 1235.5 1683)" stroke-width="1.9"/>
<ellipse cx="1240.5" cy="1685" rx="20" ry="36.5" transform="rotate(20 1240.5 1685)" stroke-width="1.4"/>
<path d="M1253.5 1652 L1294.6 1665 L1309.6 1678.6 L1320 1707 L1288.4 1736.8 L1271.4 1729 L1229 1717.5 L1222 1690Z" stroke="none"/>
<path d="M1253.5 1652 L1294.6 1665 M1271.4 1729 L1229 1717.5" fill="none"/>
<path d="M1266 1657 Q1246 1690 1254 1723 M1272 1659 Q1252 1692 1260 1725" fill="none" stroke-width="1.4"/>
<ellipse cx="1283" cy="1697" rx="17" ry="34" transform="rotate(20 1283 1697)" stroke-width="2.6"/>
<ellipse cx="1290" cy="1701" rx="17" ry="32.5" transform="rotate(20 1290 1701)" stroke-width="1.5"/>
<ellipse cx="1299" cy="1707.5" rx="20" ry="31" transform="rotate(20 1299 1707.5)" stroke-width="1.8"/>
<ellipse cx="1294.7" cy="1689.3" rx="3.4" ry="4.6" transform="rotate(20 1294.7 1689.3)" stroke-width="1.7"/>
<ellipse cx="1313.2" cy="1693.7" rx="3.4" ry="4.6" transform="rotate(20 1313.2 1693.7)" stroke-width="1.7"/>
<ellipse cx="1299.0" cy="1707.7" rx="3.4" ry="4.6" transform="rotate(20 1299.0 1707.7)" stroke-width="1.7"/>
<ellipse cx="1284.0" cy="1719.2" rx="3.4" ry="4.6" transform="rotate(20 1284.0 1719.2)" stroke-width="1.7"/>
<ellipse cx="1303.5" cy="1724.5" rx="3.4" ry="4.6" transform="rotate(20 1303.5 1724.5)" stroke-width="1.7"/>
<path d="M1228 1683 l21 6 l0 5.5 l-21 -6Z" fill="#2b2b2b" stroke="none"/>
<path d="M1231 1686 l15 4.2" stroke="#fff" stroke-width="1.4" fill="none"/>
<path d="M1228 1694 l21 6 l0 5.5 l-21 -6Z" fill="#2b2b2b" stroke="none"/>
<path d="M1231 1697 l15 4.2" stroke="#fff" stroke-width="1.4" fill="none"/>
<path d="M1228 1705 l21 6 l0 5.5 l-21 -6Z" fill="#2b2b2b" stroke="none"/>
<path d="M1231 1708 l15 4.2" stroke="#fff" stroke-width="1.4" fill="none"/>
<path d="M1326.5 1701.5 L1350 1711.5" stroke="#161616" stroke-width="5" fill="none" stroke-linecap="round"/>
<path d="M1328 1702 L1349 1711" stroke="#fff" stroke-width="1.2" fill="none" stroke-dasharray="1.5 2.5"/>
<ellipse cx="1420" cy="1760" rx="31" ry="43" transform="rotate(-8 1420 1760)" stroke-width="1.6"/>
<path d="M1416 1717 L1456 1741 L1462 1808 L1424 1803Z" stroke="none"/>
<path d="M1412 1718 Q1436 1712 1454 1742 M1424 1803 L1456 1808 M1404 1768 Q1400 1738 1418 1722 M1410 1772 Q1408 1744 1424 1728" fill="none" stroke-width="1.4"/>
<path d="M1428.5 1694 L1428.5 1740 L1456 1744 L1477 1736 L1477 1694 Z"/>
<path d="M1428.5 1740 L1428.5 1752" fill="none"/>
<ellipse cx="1452.5" cy="1695" rx="24" ry="9.5" stroke-width="1.8"/>
<ellipse cx="1452.5" cy="1696" rx="18.5" ry="6.5" stroke-width="1.3"/>
<path d="M1466 1718 L1480 1715 L1481 1727 L1468 1731Z" stroke-width="1.4"/>
<ellipse cx="1459" cy="1774.5" rx="26.5" ry="33.5" transform="rotate(6 1459 1774.5)" stroke-width="1.8"/>
<path d="M1463 1741 L1458 1808" fill="none" stroke-width="1.4"/>
</g>
<g transform="translate(1377.5 1723.5) rotate(24)">
<path d="M-12 -7.5 L8 -7.5 Q15 0 8 7.5 L-12 7.5Z" fill="#fff" stroke="#c2c2c2" stroke-width="1.3"/>
<ellipse cx="-11" cy="0" rx="4.6" ry="8" fill="#fff" stroke="#2b2b2b" stroke-width="1.9"/>
<path d="M-4 -7.5 L-4 7.5 M0 -7.5 L0 7.5 M-8 -4 L0 -4" stroke="#999" stroke-width="1.2" fill="none"/>
</g>
<g transform="translate(1350.0 1748.0) rotate(24)">
<path d="M-12 -7.5 L8 -7.5 Q15 0 8 7.5 L-12 7.5Z" fill="#fff" stroke="#c2c2c2" stroke-width="1.3"/>
<ellipse cx="-11" cy="0" rx="4.6" ry="8" fill="#fff" stroke="#2b2b2b" stroke-width="1.9"/>
<path d="M-4 -7.5 L-4 7.5 M0 -7.5 L0 7.5 M-8 -4 L0 -4" stroke="#999" stroke-width="1.2" fill="none"/>
</g>
<g stroke="#2b2b2b" fill="#fff" stroke-width="1.7">
<path d="M1462 1462 L1472 1456 Q1485 1458 1487 1468 L1487 1486 L1476 1492 L1466 1490Z"/>
<path d="M1470 1474 L1487 1468 M1471 1484 L1487 1479" fill="none" stroke-width="1.4"/>
<path d="M1410.5 1480 L1410.5 1462 Q1412 1456 1418 1454 L1434 1445 L1440 1447 L1424 1458 L1422 1480Z"/>
<path d="M1416 1480 L1416 1460 M1420 1457 L1437 1447" fill="none" stroke-width="1.3"/>
<path d="M1424 1464 Q1425 1458 1431 1455 L1436 1445 L1451.5 1451 L1461.5 1467.5 L1470 1489.5 L1468.5 1514.5 L1451.5 1532 L1420.5 1533 L1418 1500Z"/>
<path d="M1431 1455 L1436 1458 Q1440 1462 1440.5 1472 L1440.5 1494 M1436 1445 L1436 1458" fill="none" stroke-width="1.3"/>
<path d="M1423 1504 L1428 1498 L1466 1486 L1470 1490 L1469 1512 L1452 1530 L1424 1531Z" stroke-width="1.6"/>
<path d="M1426 1500 L1441 1496 L1441 1524 L1426 1526Z" fill="#2b2b2b"/>
<path d="M1428 1505 L1434 1503 L1434 1523 L1428 1524Z" stroke="none"/>
<path d="M1446 1498 L1446 1522 M1452 1500 L1462 1497 L1462 1506 L1455 1508 L1455 1503" fill="none" stroke-width="1.5"/>
<path d="M1401 1484 L1424 1479 Q1431 1481 1431 1488 L1430 1518 L1414 1522 L1403 1524Z"/>
<ellipse cx="1396.5" cy="1507" rx="9.5" ry="23.5" stroke-width="2.8" transform="rotate(-4 1396.5 1507)"/>
<ellipse cx="1395.5" cy="1507.5" rx="6" ry="18.5" stroke-width="1.3" fill="#2b2b2b" transform="rotate(-4 1395.5 1507.5)"/>
<ellipse cx="1395" cy="1496.0" rx="2.8" ry="3.6" fill="#fff" stroke="none"/>
<ellipse cx="1395" cy="1507.5" rx="2.8" ry="3.6" fill="#fff" stroke="none"/>
<ellipse cx="1395" cy="1519.0" rx="2.8" ry="3.6" fill="#fff" stroke="none"/>
</g>
<g transform="translate(1313.0 1557.5) rotate(-24)">
<path d="M-12 -11.5 L4 -11.5 L4 -8 L14 -8 L14 8 L4 8 L4 11.5 L-12 11.5Z" fill="#fff" stroke="#c4c4c4" stroke-width="1.3"/>
<ellipse cx="-12" cy="0" rx="5.5" ry="11.5" fill="#fff" stroke="#c9c9c9" stroke-width="1.3"/>
<path d="M-4 -11.5 Q0 0 -4 11.5 M0 -11.5 Q4 0 0 11.5 M4 -8 Q7 0 4 8" fill="none" stroke="#c4c4c4" stroke-width="1.1"/>
<path d="M9 -8 L14 -8 Q19.5 0 14 8 L10 8" fill="none" stroke="#2b2b2b" stroke-width="2"/>
</g>
<g transform="translate(1363.0 1537.0) rotate(-24)">
<path d="M-17 3 L-8 3 L-8 -2 L-3 -2 L-3 2 L6 2 L8 -2 L17 -2 L17 2 L8 3" fill="none" stroke="#c8c8c8" stroke-width="1.2"/>
<path d="M-12 1 L-8 1 L-8 -3" fill="none" stroke="#8a8a8a" stroke-width="1.6"/>
</g>
<line x1="1320.3" y1="1517.0" x2="1320.3" y2="1544.5" stroke="#555" stroke-width="1.3"/>
<line x1="1360.0" y1="1509.5" x2="1360.0" y2="1533.0" stroke="#555" stroke-width="1.3"/>
<line x1="1440.2" y1="1532.0" x2="1440.2" y2="1560.5" stroke="#555" stroke-width="1.3"/>
<path d="M850.0 593.5 L862.0 590.0" fill="none" stroke="#161616" stroke-width="24"/>
<path d="M850.0 593.5 L862.0 590.0" fill="none" stroke="#fff" stroke-width="19" stroke-dasharray="1.4 1.5"/>
<path d="M833 563 L831.3 558 Q830 551 836.3 549.7 L844.6 544.7 L866.1 534 L890.1 546.4 L902.6 558 L909.2 565.4 Q914 571 909.2 581.2 L895.9 589.4 L879.4 593.6 L866.1 598.5 L862.8 582.8 L849.6 576.2 L848.7 580.3 L838 577.8 L833.8 572.9 Z" fill="#fff" stroke="#161616" stroke-width="1.9" />
<path d="M836.3 549.7 Q841 553 839 560 L833.8 572.9 M844.6 544.7 L869 556.5 L866 562 L842 551 M853 540.5 L876 551.5 M860 537 L884 549 M869 556.5 L893 548 M866 562 Q862 572 862.8 582.8 M866 562 L890 552 Q904 556 909.2 565.4" fill="none" stroke="#161616" stroke-width="1.4" />
<path d="M890.1 546.4 L902.6 558" fill="none" stroke="#161616" stroke-width="3.2" />
<path d="M866 568 Q880 560 902 563 M880 574 L879.4 593.6 M880 574 Q872 570 864 574" fill="none" stroke="#161616" stroke-width="1.3" />
<ellipse cx="896.8" cy="579.5" rx="13.0" ry="6.5" fill="#fff" stroke="#161616" stroke-width="1.4" transform="rotate(-25.0 896.8 579.5)"/>
<line x1="737.0" y1="812.5" x2="783.0" y2="824.0" stroke="#161616" stroke-width="9.5" stroke-linecap="round"/>
<line x1="737.0" y1="812.5" x2="783.0" y2="824.0" stroke="#fff" stroke-width="6.1" stroke-linecap="round"/>
<line x1="737.0" y1="812.5" x2="757.7" y2="817.7" stroke="#161616" stroke-width="7.5" stroke-dasharray="1.6 2"/>
<circle cx="737.0" cy="812.5" r="5.6" fill="#fff" stroke="#161616" stroke-width="3.6"/>
<line x1="798.0" y1="868.0" x2="845.0" y2="880.0" stroke="#161616" stroke-width="9.5" stroke-linecap="round"/>
<line x1="798.0" y1="868.0" x2="845.0" y2="880.0" stroke="#fff" stroke-width="6.1" stroke-linecap="round"/>
<line x1="798.0" y1="868.0" x2="819.1" y2="873.4" stroke="#161616" stroke-width="7.5" stroke-dasharray="1.6 2"/>
<circle cx="798.0" cy="868.0" r="5.6" fill="#fff" stroke="#161616" stroke-width="3.6"/>
<line x1="1117.0" y1="944.0" x2="1089.0" y2="955.5" stroke="#161616" stroke-width="8.5" stroke-linecap="round"/>
<line x1="1117.0" y1="944.0" x2="1089.0" y2="955.5" stroke="#fff" stroke-width="5.1" stroke-linecap="round"/>
<line x1="1117.0" y1="944.0" x2="1104.4" y2="949.2" stroke="#161616" stroke-width="6.5" stroke-dasharray="1.6 2"/>
<circle cx="1117.0" cy="944.0" r="5.6" fill="#fff" stroke="#161616" stroke-width="3.6"/>
<path d="M1114 938 Q1132 952 1150 940" fill="none" stroke="#161616" stroke-width="6.5"/>
<path d="M1114 938 Q1132 952 1150 940" fill="none" stroke="#fff" stroke-width="3"/>
</g>
</defs>
<use href="#art" filter="url(#soft)"/>
<use href="#art" opacity="0.4"/>
</svg>
</body></html>
